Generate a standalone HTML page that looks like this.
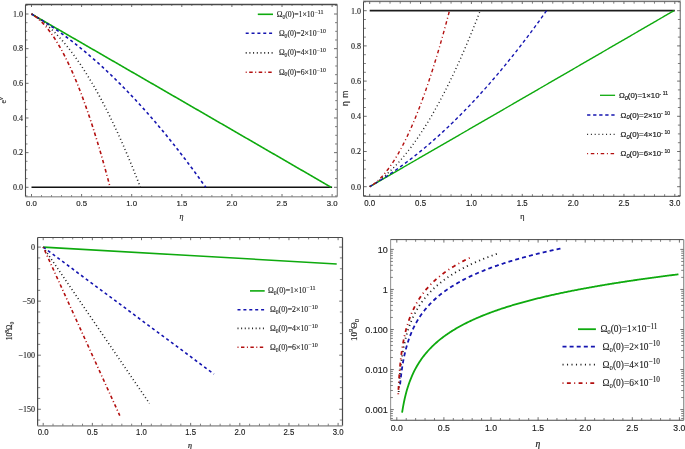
<!DOCTYPE html>
<html><head><meta charset="utf-8"><style>
html,body{margin:0;padding:0;background:#fff;}
svg{display:block;will-change:transform;}
</style></head><body>
<svg width="685" height="449" viewBox="0 0 685 449">
<rect width="685" height="449" fill="#fff"/>
<path d="M25.5 4.5 L25.5 196.7" fill="none" stroke="#4a4a4a" stroke-width="1.1" stroke-linecap="butt" stroke-linejoin="round"/>
<path d="M25.5 4.5 L337.3 4.5" fill="none" stroke="#4a4a4a" stroke-width="1.4" stroke-linecap="butt" stroke-linejoin="round"/>
<path d="M337.3 4.5 L337.3 196.7" fill="none" stroke="#7c7c7c" stroke-width="1.1" stroke-linecap="butt" stroke-linejoin="round"/>
<path d="M25.5 196.7 L337.3 196.7" fill="none" stroke="#a4a4a4" stroke-width="1.6" stroke-linecap="butt" stroke-linejoin="round"/>
<path d="M31.5 196.5 L31.5 194" fill="none" stroke="#4a4a4a" stroke-width="0.8" stroke-linecap="butt" stroke-linejoin="round"/>
<path d="M31.5 4.5 L31.5 7" fill="none" stroke="#4a4a4a" stroke-width="0.8" stroke-linecap="butt" stroke-linejoin="round"/>
<path d="M81.6 196.5 L81.6 194" fill="none" stroke="#4a4a4a" stroke-width="0.8" stroke-linecap="butt" stroke-linejoin="round"/>
<path d="M81.6 4.5 L81.6 7" fill="none" stroke="#4a4a4a" stroke-width="0.8" stroke-linecap="butt" stroke-linejoin="round"/>
<path d="M131.7 196.5 L131.7 194" fill="none" stroke="#4a4a4a" stroke-width="0.8" stroke-linecap="butt" stroke-linejoin="round"/>
<path d="M131.7 4.5 L131.7 7" fill="none" stroke="#4a4a4a" stroke-width="0.8" stroke-linecap="butt" stroke-linejoin="round"/>
<path d="M181.8 196.5 L181.8 194" fill="none" stroke="#4a4a4a" stroke-width="0.8" stroke-linecap="butt" stroke-linejoin="round"/>
<path d="M181.8 4.5 L181.8 7" fill="none" stroke="#4a4a4a" stroke-width="0.8" stroke-linecap="butt" stroke-linejoin="round"/>
<path d="M231.9 196.5 L231.9 194" fill="none" stroke="#4a4a4a" stroke-width="0.8" stroke-linecap="butt" stroke-linejoin="round"/>
<path d="M231.9 4.5 L231.9 7" fill="none" stroke="#4a4a4a" stroke-width="0.8" stroke-linecap="butt" stroke-linejoin="round"/>
<path d="M282 196.5 L282 194" fill="none" stroke="#4a4a4a" stroke-width="0.8" stroke-linecap="butt" stroke-linejoin="round"/>
<path d="M282 4.5 L282 7" fill="none" stroke="#4a4a4a" stroke-width="0.8" stroke-linecap="butt" stroke-linejoin="round"/>
<path d="M332.1 196.5 L332.1 194" fill="none" stroke="#4a4a4a" stroke-width="0.8" stroke-linecap="butt" stroke-linejoin="round"/>
<path d="M332.1 4.5 L332.1 7" fill="none" stroke="#4a4a4a" stroke-width="0.8" stroke-linecap="butt" stroke-linejoin="round"/>
<path d="M41.52 196.5 L41.52 195.1" fill="none" stroke="#4a4a4a" stroke-width="0.7" stroke-linecap="butt" stroke-linejoin="round"/>
<path d="M41.52 4.5 L41.52 5.9" fill="none" stroke="#4a4a4a" stroke-width="0.7" stroke-linecap="butt" stroke-linejoin="round"/>
<path d="M51.54 196.5 L51.54 195.1" fill="none" stroke="#4a4a4a" stroke-width="0.7" stroke-linecap="butt" stroke-linejoin="round"/>
<path d="M51.54 4.5 L51.54 5.9" fill="none" stroke="#4a4a4a" stroke-width="0.7" stroke-linecap="butt" stroke-linejoin="round"/>
<path d="M61.56 196.5 L61.56 195.1" fill="none" stroke="#4a4a4a" stroke-width="0.7" stroke-linecap="butt" stroke-linejoin="round"/>
<path d="M61.56 4.5 L61.56 5.9" fill="none" stroke="#4a4a4a" stroke-width="0.7" stroke-linecap="butt" stroke-linejoin="round"/>
<path d="M71.58 196.5 L71.58 195.1" fill="none" stroke="#4a4a4a" stroke-width="0.7" stroke-linecap="butt" stroke-linejoin="round"/>
<path d="M71.58 4.5 L71.58 5.9" fill="none" stroke="#4a4a4a" stroke-width="0.7" stroke-linecap="butt" stroke-linejoin="round"/>
<path d="M91.62 196.5 L91.62 195.1" fill="none" stroke="#4a4a4a" stroke-width="0.7" stroke-linecap="butt" stroke-linejoin="round"/>
<path d="M91.62 4.5 L91.62 5.9" fill="none" stroke="#4a4a4a" stroke-width="0.7" stroke-linecap="butt" stroke-linejoin="round"/>
<path d="M101.64 196.5 L101.64 195.1" fill="none" stroke="#4a4a4a" stroke-width="0.7" stroke-linecap="butt" stroke-linejoin="round"/>
<path d="M101.64 4.5 L101.64 5.9" fill="none" stroke="#4a4a4a" stroke-width="0.7" stroke-linecap="butt" stroke-linejoin="round"/>
<path d="M111.66 196.5 L111.66 195.1" fill="none" stroke="#4a4a4a" stroke-width="0.7" stroke-linecap="butt" stroke-linejoin="round"/>
<path d="M111.66 4.5 L111.66 5.9" fill="none" stroke="#4a4a4a" stroke-width="0.7" stroke-linecap="butt" stroke-linejoin="round"/>
<path d="M121.68 196.5 L121.68 195.1" fill="none" stroke="#4a4a4a" stroke-width="0.7" stroke-linecap="butt" stroke-linejoin="round"/>
<path d="M121.68 4.5 L121.68 5.9" fill="none" stroke="#4a4a4a" stroke-width="0.7" stroke-linecap="butt" stroke-linejoin="round"/>
<path d="M141.72 196.5 L141.72 195.1" fill="none" stroke="#4a4a4a" stroke-width="0.7" stroke-linecap="butt" stroke-linejoin="round"/>
<path d="M141.72 4.5 L141.72 5.9" fill="none" stroke="#4a4a4a" stroke-width="0.7" stroke-linecap="butt" stroke-linejoin="round"/>
<path d="M151.74 196.5 L151.74 195.1" fill="none" stroke="#4a4a4a" stroke-width="0.7" stroke-linecap="butt" stroke-linejoin="round"/>
<path d="M151.74 4.5 L151.74 5.9" fill="none" stroke="#4a4a4a" stroke-width="0.7" stroke-linecap="butt" stroke-linejoin="round"/>
<path d="M161.76 196.5 L161.76 195.1" fill="none" stroke="#4a4a4a" stroke-width="0.7" stroke-linecap="butt" stroke-linejoin="round"/>
<path d="M161.76 4.5 L161.76 5.9" fill="none" stroke="#4a4a4a" stroke-width="0.7" stroke-linecap="butt" stroke-linejoin="round"/>
<path d="M171.78 196.5 L171.78 195.1" fill="none" stroke="#4a4a4a" stroke-width="0.7" stroke-linecap="butt" stroke-linejoin="round"/>
<path d="M171.78 4.5 L171.78 5.9" fill="none" stroke="#4a4a4a" stroke-width="0.7" stroke-linecap="butt" stroke-linejoin="round"/>
<path d="M191.82 196.5 L191.82 195.1" fill="none" stroke="#4a4a4a" stroke-width="0.7" stroke-linecap="butt" stroke-linejoin="round"/>
<path d="M191.82 4.5 L191.82 5.9" fill="none" stroke="#4a4a4a" stroke-width="0.7" stroke-linecap="butt" stroke-linejoin="round"/>
<path d="M201.84 196.5 L201.84 195.1" fill="none" stroke="#4a4a4a" stroke-width="0.7" stroke-linecap="butt" stroke-linejoin="round"/>
<path d="M201.84 4.5 L201.84 5.9" fill="none" stroke="#4a4a4a" stroke-width="0.7" stroke-linecap="butt" stroke-linejoin="round"/>
<path d="M211.86 196.5 L211.86 195.1" fill="none" stroke="#4a4a4a" stroke-width="0.7" stroke-linecap="butt" stroke-linejoin="round"/>
<path d="M211.86 4.5 L211.86 5.9" fill="none" stroke="#4a4a4a" stroke-width="0.7" stroke-linecap="butt" stroke-linejoin="round"/>
<path d="M221.88 196.5 L221.88 195.1" fill="none" stroke="#4a4a4a" stroke-width="0.7" stroke-linecap="butt" stroke-linejoin="round"/>
<path d="M221.88 4.5 L221.88 5.9" fill="none" stroke="#4a4a4a" stroke-width="0.7" stroke-linecap="butt" stroke-linejoin="round"/>
<path d="M241.92 196.5 L241.92 195.1" fill="none" stroke="#4a4a4a" stroke-width="0.7" stroke-linecap="butt" stroke-linejoin="round"/>
<path d="M241.92 4.5 L241.92 5.9" fill="none" stroke="#4a4a4a" stroke-width="0.7" stroke-linecap="butt" stroke-linejoin="round"/>
<path d="M251.94 196.5 L251.94 195.1" fill="none" stroke="#4a4a4a" stroke-width="0.7" stroke-linecap="butt" stroke-linejoin="round"/>
<path d="M251.94 4.5 L251.94 5.9" fill="none" stroke="#4a4a4a" stroke-width="0.7" stroke-linecap="butt" stroke-linejoin="round"/>
<path d="M261.96 196.5 L261.96 195.1" fill="none" stroke="#4a4a4a" stroke-width="0.7" stroke-linecap="butt" stroke-linejoin="round"/>
<path d="M261.96 4.5 L261.96 5.9" fill="none" stroke="#4a4a4a" stroke-width="0.7" stroke-linecap="butt" stroke-linejoin="round"/>
<path d="M271.98 196.5 L271.98 195.1" fill="none" stroke="#4a4a4a" stroke-width="0.7" stroke-linecap="butt" stroke-linejoin="round"/>
<path d="M271.98 4.5 L271.98 5.9" fill="none" stroke="#4a4a4a" stroke-width="0.7" stroke-linecap="butt" stroke-linejoin="round"/>
<path d="M292.02 196.5 L292.02 195.1" fill="none" stroke="#4a4a4a" stroke-width="0.7" stroke-linecap="butt" stroke-linejoin="round"/>
<path d="M292.02 4.5 L292.02 5.9" fill="none" stroke="#4a4a4a" stroke-width="0.7" stroke-linecap="butt" stroke-linejoin="round"/>
<path d="M302.04 196.5 L302.04 195.1" fill="none" stroke="#4a4a4a" stroke-width="0.7" stroke-linecap="butt" stroke-linejoin="round"/>
<path d="M302.04 4.5 L302.04 5.9" fill="none" stroke="#4a4a4a" stroke-width="0.7" stroke-linecap="butt" stroke-linejoin="round"/>
<path d="M312.06 196.5 L312.06 195.1" fill="none" stroke="#4a4a4a" stroke-width="0.7" stroke-linecap="butt" stroke-linejoin="round"/>
<path d="M312.06 4.5 L312.06 5.9" fill="none" stroke="#4a4a4a" stroke-width="0.7" stroke-linecap="butt" stroke-linejoin="round"/>
<path d="M322.08 196.5 L322.08 195.1" fill="none" stroke="#4a4a4a" stroke-width="0.7" stroke-linecap="butt" stroke-linejoin="round"/>
<path d="M322.08 4.5 L322.08 5.9" fill="none" stroke="#4a4a4a" stroke-width="0.7" stroke-linecap="butt" stroke-linejoin="round"/>
<path d="M25.5 187.3 L28.5 187.3" fill="none" stroke="#4a4a4a" stroke-width="0.8" stroke-linecap="butt" stroke-linejoin="round"/>
<path d="M337 187.3 L334 187.3" fill="none" stroke="#4a4a4a" stroke-width="0.8" stroke-linecap="butt" stroke-linejoin="round"/>
<path d="M25.5 152.64 L28.5 152.64" fill="none" stroke="#4a4a4a" stroke-width="0.8" stroke-linecap="butt" stroke-linejoin="round"/>
<path d="M337 152.64 L334 152.64" fill="none" stroke="#4a4a4a" stroke-width="0.8" stroke-linecap="butt" stroke-linejoin="round"/>
<path d="M25.5 117.98 L28.5 117.98" fill="none" stroke="#4a4a4a" stroke-width="0.8" stroke-linecap="butt" stroke-linejoin="round"/>
<path d="M337 117.98 L334 117.98" fill="none" stroke="#4a4a4a" stroke-width="0.8" stroke-linecap="butt" stroke-linejoin="round"/>
<path d="M25.5 83.32 L28.5 83.32" fill="none" stroke="#4a4a4a" stroke-width="0.8" stroke-linecap="butt" stroke-linejoin="round"/>
<path d="M337 83.32 L334 83.32" fill="none" stroke="#4a4a4a" stroke-width="0.8" stroke-linecap="butt" stroke-linejoin="round"/>
<path d="M25.5 48.66 L28.5 48.66" fill="none" stroke="#4a4a4a" stroke-width="0.8" stroke-linecap="butt" stroke-linejoin="round"/>
<path d="M337 48.66 L334 48.66" fill="none" stroke="#4a4a4a" stroke-width="0.8" stroke-linecap="butt" stroke-linejoin="round"/>
<path d="M25.5 14 L28.5 14" fill="none" stroke="#4a4a4a" stroke-width="0.8" stroke-linecap="butt" stroke-linejoin="round"/>
<path d="M337 14 L334 14" fill="none" stroke="#4a4a4a" stroke-width="0.8" stroke-linecap="butt" stroke-linejoin="round"/>
<path d="M25.5 169.97 L27.3 169.97" fill="none" stroke="#4a4a4a" stroke-width="0.7" stroke-linecap="butt" stroke-linejoin="round"/>
<path d="M337 169.97 L335.2 169.97" fill="none" stroke="#4a4a4a" stroke-width="0.7" stroke-linecap="butt" stroke-linejoin="round"/>
<path d="M25.5 135.31 L27.3 135.31" fill="none" stroke="#4a4a4a" stroke-width="0.7" stroke-linecap="butt" stroke-linejoin="round"/>
<path d="M337 135.31 L335.2 135.31" fill="none" stroke="#4a4a4a" stroke-width="0.7" stroke-linecap="butt" stroke-linejoin="round"/>
<path d="M25.5 100.65 L27.3 100.65" fill="none" stroke="#4a4a4a" stroke-width="0.7" stroke-linecap="butt" stroke-linejoin="round"/>
<path d="M337 100.65 L335.2 100.65" fill="none" stroke="#4a4a4a" stroke-width="0.7" stroke-linecap="butt" stroke-linejoin="round"/>
<path d="M25.5 65.99 L27.3 65.99" fill="none" stroke="#4a4a4a" stroke-width="0.7" stroke-linecap="butt" stroke-linejoin="round"/>
<path d="M337 65.99 L335.2 65.99" fill="none" stroke="#4a4a4a" stroke-width="0.7" stroke-linecap="butt" stroke-linejoin="round"/>
<path d="M25.5 31.33 L27.3 31.33" fill="none" stroke="#4a4a4a" stroke-width="0.7" stroke-linecap="butt" stroke-linejoin="round"/>
<path d="M337 31.33 L335.2 31.33" fill="none" stroke="#4a4a4a" stroke-width="0.7" stroke-linecap="butt" stroke-linejoin="round"/>
<path d="M25.5 195.97 L27.5 195.97" fill="none" stroke="#4a4a4a" stroke-width="0.7" stroke-linecap="butt" stroke-linejoin="round"/>
<path d="M337 195.97 L335 195.97" fill="none" stroke="#4a4a4a" stroke-width="0.7" stroke-linecap="butt" stroke-linejoin="round"/>
<path d="M25.5 178.64 L27.5 178.64" fill="none" stroke="#4a4a4a" stroke-width="0.7" stroke-linecap="butt" stroke-linejoin="round"/>
<path d="M337 178.64 L335 178.64" fill="none" stroke="#4a4a4a" stroke-width="0.7" stroke-linecap="butt" stroke-linejoin="round"/>
<path d="M25.5 161.31 L27.5 161.31" fill="none" stroke="#4a4a4a" stroke-width="0.7" stroke-linecap="butt" stroke-linejoin="round"/>
<path d="M337 161.31 L335 161.31" fill="none" stroke="#4a4a4a" stroke-width="0.7" stroke-linecap="butt" stroke-linejoin="round"/>
<path d="M25.5 143.98 L27.5 143.98" fill="none" stroke="#4a4a4a" stroke-width="0.7" stroke-linecap="butt" stroke-linejoin="round"/>
<path d="M337 143.98 L335 143.98" fill="none" stroke="#4a4a4a" stroke-width="0.7" stroke-linecap="butt" stroke-linejoin="round"/>
<path d="M25.5 126.65 L27.5 126.65" fill="none" stroke="#4a4a4a" stroke-width="0.7" stroke-linecap="butt" stroke-linejoin="round"/>
<path d="M337 126.65 L335 126.65" fill="none" stroke="#4a4a4a" stroke-width="0.7" stroke-linecap="butt" stroke-linejoin="round"/>
<path d="M25.5 109.31 L27.5 109.31" fill="none" stroke="#4a4a4a" stroke-width="0.7" stroke-linecap="butt" stroke-linejoin="round"/>
<path d="M337 109.31 L335 109.31" fill="none" stroke="#4a4a4a" stroke-width="0.7" stroke-linecap="butt" stroke-linejoin="round"/>
<path d="M25.5 91.98 L27.5 91.98" fill="none" stroke="#4a4a4a" stroke-width="0.7" stroke-linecap="butt" stroke-linejoin="round"/>
<path d="M337 91.98 L335 91.98" fill="none" stroke="#4a4a4a" stroke-width="0.7" stroke-linecap="butt" stroke-linejoin="round"/>
<path d="M25.5 74.66 L27.5 74.66" fill="none" stroke="#4a4a4a" stroke-width="0.7" stroke-linecap="butt" stroke-linejoin="round"/>
<path d="M337 74.66 L335 74.66" fill="none" stroke="#4a4a4a" stroke-width="0.7" stroke-linecap="butt" stroke-linejoin="round"/>
<path d="M25.5 57.32 L27.5 57.32" fill="none" stroke="#4a4a4a" stroke-width="0.7" stroke-linecap="butt" stroke-linejoin="round"/>
<path d="M337 57.32 L335 57.32" fill="none" stroke="#4a4a4a" stroke-width="0.7" stroke-linecap="butt" stroke-linejoin="round"/>
<path d="M25.5 39.99 L27.5 39.99" fill="none" stroke="#4a4a4a" stroke-width="0.7" stroke-linecap="butt" stroke-linejoin="round"/>
<path d="M337 39.99 L335 39.99" fill="none" stroke="#4a4a4a" stroke-width="0.7" stroke-linecap="butt" stroke-linejoin="round"/>
<path d="M25.5 22.66 L27.5 22.66" fill="none" stroke="#4a4a4a" stroke-width="0.7" stroke-linecap="butt" stroke-linejoin="round"/>
<path d="M337 22.66 L335 22.66" fill="none" stroke="#4a4a4a" stroke-width="0.7" stroke-linecap="butt" stroke-linejoin="round"/>
<path d="M25.5 5.33 L27.5 5.33" fill="none" stroke="#4a4a4a" stroke-width="0.7" stroke-linecap="butt" stroke-linejoin="round"/>
<path d="M337 5.33 L335 5.33" fill="none" stroke="#4a4a4a" stroke-width="0.7" stroke-linecap="butt" stroke-linejoin="round"/>
<path d="M31.5 187.3 L332.1 187.3" fill="none" stroke="#111" stroke-width="1.5" stroke-linecap="butt" stroke-linejoin="round"/>
<path d="M31.5 14 L33 14.86 L34.5 15.73 L36 16.59 L37.49 17.46 L38.99 18.32 L40.49 19.18 L41.99 20.05 L43.49 20.91 L44.99 21.78 L46.48 22.64 L47.98 23.5 L49.48 24.37 L50.98 25.23 L52.48 26.1 L53.98 26.96 L55.48 27.83 L56.97 28.69 L58.47 29.55 L59.97 30.42 L61.47 31.28 L62.97 32.15 L64.47 33.01 L65.97 33.88 L67.46 34.74 L68.96 35.61 L70.46 36.47 L71.96 37.34 L73.46 38.2 L74.96 39.06 L76.45 39.93 L77.95 40.79 L79.45 41.66 L80.95 42.52 L82.45 43.39 L83.95 44.25 L85.45 45.12 L86.94 45.98 L88.44 46.85 L89.94 47.71 L91.44 48.58 L92.94 49.44 L94.44 50.31 L95.94 51.17 L97.43 52.04 L98.93 52.9 L100.43 53.77 L101.93 54.63 L103.43 55.5 L104.93 56.36 L106.42 57.23 L107.92 58.09 L109.42 58.96 L110.92 59.82 L112.42 60.69 L113.92 61.56 L115.42 62.42 L116.91 63.29 L118.41 64.15 L119.91 65.02 L121.41 65.88 L122.91 66.75 L124.41 67.61 L125.9 68.48 L127.4 69.35 L128.9 70.21 L130.4 71.08 L131.9 71.94 L133.4 72.81 L134.9 73.67 L136.39 74.54 L137.89 75.41 L139.39 76.27 L140.89 77.14 L142.39 78 L143.89 78.87 L145.39 79.73 L146.88 80.6 L148.38 81.47 L149.88 82.33 L151.38 83.2 L152.88 84.06 L154.38 84.93 L155.87 85.8 L157.37 86.66 L158.87 87.53 L160.37 88.4 L161.87 89.26 L163.37 90.13 L164.87 90.99 L166.36 91.86 L167.86 92.73 L169.36 93.59 L170.86 94.46 L172.36 95.33 L173.86 96.19 L175.36 97.06 L176.85 97.93 L178.35 98.79 L179.85 99.66 L181.35 100.53 L182.85 101.39 L184.35 102.26 L185.84 103.13 L187.34 103.99 L188.84 104.86 L190.34 105.73 L191.84 106.59 L193.34 107.46 L194.84 108.33 L196.33 109.19 L197.83 110.06 L199.33 110.93 L200.83 111.79 L202.33 112.66 L203.83 113.53 L205.32 114.39 L206.82 115.26 L208.32 116.13 L209.82 117 L211.32 117.86 L212.82 118.73 L214.32 119.6 L215.81 120.46 L217.31 121.33 L218.81 122.2 L220.31 123.07 L221.81 123.93 L223.31 124.8 L224.81 125.67 L226.3 126.54 L227.8 127.4 L229.3 128.27 L230.8 129.14 L232.3 130.01 L233.8 130.87 L235.29 131.74 L236.79 132.61 L238.29 133.48 L239.79 134.34 L241.29 135.21 L242.79 136.08 L244.29 136.95 L245.78 137.82 L247.28 138.68 L248.78 139.55 L250.28 140.42 L251.78 141.29 L253.28 142.15 L254.78 143.02 L256.27 143.89 L257.77 144.76 L259.27 145.63 L260.77 146.49 L262.27 147.36 L263.77 148.23 L265.26 149.1 L266.76 149.97 L268.26 150.83 L269.76 151.7 L271.26 152.57 L272.76 153.44 L274.26 154.31 L275.75 155.18 L277.25 156.04 L278.75 156.91 L280.25 157.78 L281.75 158.65 L283.25 159.52 L284.74 160.39 L286.24 161.26 L287.74 162.12 L289.24 162.99 L290.74 163.86 L292.24 164.73 L293.74 165.6 L295.23 166.47 L296.73 167.34 L298.23 168.2 L299.73 169.07 L301.23 169.94 L302.73 170.81 L304.23 171.68 L305.72 172.55 L307.22 173.42 L308.72 174.29 L310.22 175.15 L311.72 176.02 L313.22 176.89 L314.71 177.76 L316.21 178.63 L317.71 179.5 L319.21 180.37 L320.71 181.24 L322.21 182.11 L323.71 182.98 L325.2 183.85 L326.7 184.71 L328.2 185.58 L329.7 186.45 L331.2 187.32" fill="none" stroke="#0eaa0e" stroke-width="1.6" stroke-linecap="butt" stroke-linejoin="round"/>
<path d="M31.5 14 L32.37 14.5 L33.24 15.01 L34.11 15.52 L34.98 16.04 L35.86 16.56 L36.73 17.08 L37.6 17.61 L38.47 18.13 L39.34 18.67 L40.21 19.2 L41.08 19.75 L41.95 20.29 L42.83 20.84 L43.7 21.39 L44.57 21.94 L45.44 22.5 L46.31 23.07 L47.18 23.63 L48.05 24.2 L48.92 24.77 L49.8 25.35 L50.67 25.93 L51.54 26.52 L52.41 27.1 L53.28 27.7 L54.15 28.29 L55.02 28.89 L55.89 29.49 L56.77 30.1 L57.64 30.71 L58.51 31.32 L59.38 31.94 L60.25 32.56 L61.12 33.18 L61.99 33.81 L62.86 34.44 L63.74 35.08 L64.61 35.72 L65.48 36.36 L66.35 37.01 L67.22 37.65 L68.09 38.31 L68.96 38.97 L69.83 39.63 L70.71 40.29 L71.58 40.96 L72.45 41.63 L73.32 42.31 L74.19 42.98 L75.06 43.67 L75.93 44.35 L76.8 45.04 L77.68 45.74 L78.55 46.43 L79.42 47.13 L80.29 47.84 L81.16 48.55 L82.03 49.26 L82.9 49.97 L83.77 50.69 L84.65 51.42 L85.52 52.14 L86.39 52.87 L87.26 53.61 L88.13 54.34 L89 55.08 L89.87 55.83 L90.74 56.58 L91.62 57.33 L92.49 58.08 L93.36 58.84 L94.23 59.61 L95.1 60.37 L95.97 61.14 L96.84 61.92 L97.71 62.69 L98.59 63.47 L99.46 64.26 L100.33 65.05 L101.2 65.84 L102.07 66.63 L102.94 67.43 L103.81 68.24 L104.68 69.04 L105.56 69.85 L106.43 70.67 L107.3 71.48 L108.17 72.3 L109.04 73.13 L109.91 73.96 L110.78 74.79 L111.65 75.62 L112.53 76.46 L113.4 77.31 L114.27 78.15 L115.14 79 L116.01 79.86 L116.88 80.71 L117.75 81.58 L118.62 82.44 L119.5 83.31 L120.37 84.18 L121.24 85.06 L122.11 85.94 L122.98 86.82 L123.85 87.7 L124.72 88.59 L125.59 89.49 L126.47 90.39 L127.34 91.29 L128.21 92.19 L129.08 93.1 L129.95 94.01 L130.82 94.93 L131.69 95.85 L132.56 96.77 L133.43 97.7 L134.31 98.63 L135.18 99.56 L136.05 100.5 L136.92 101.44 L137.79 102.38 L138.66 103.33 L139.53 104.29 L140.4 105.24 L141.28 106.2 L142.15 107.16 L143.02 108.13 L143.89 109.1 L144.76 110.07 L145.63 111.05 L146.5 112.03 L147.37 113.02 L148.25 114.01 L149.12 115 L149.99 115.99 L150.86 116.99 L151.73 118 L152.6 119 L153.47 120.01 L154.34 121.03 L155.22 122.05 L156.09 123.07 L156.96 124.09 L157.83 125.12 L158.7 126.15 L159.57 127.19 L160.44 128.23 L161.31 129.27 L162.19 130.32 L163.06 131.37 L163.93 132.42 L164.8 133.48 L165.67 134.54 L166.54 135.61 L167.41 136.68 L168.28 137.75 L169.16 138.82 L170.03 139.9 L170.9 140.99 L171.77 142.07 L172.64 143.16 L173.51 144.26 L174.38 145.36 L175.25 146.46 L176.13 147.56 L177 148.67 L177.87 149.78 L178.74 150.9 L179.61 152.02 L180.48 153.14 L181.35 154.27 L182.22 155.4 L183.1 156.53 L183.97 157.67 L184.84 158.81 L185.71 159.96 L186.58 161.11 L187.45 162.26 L188.32 163.42 L189.19 164.58 L190.07 165.74 L190.94 166.91 L191.81 168.08 L192.68 169.25 L193.55 170.43 L194.42 171.61 L195.29 172.8 L196.16 173.99 L197.04 175.18 L197.91 176.37 L198.78 177.57 L199.65 178.78 L200.52 179.98 L201.39 181.2 L202.26 182.41 L203.13 183.63 L204.01 184.85 L204.88 186.07 L205.75 187.3" fill="none" stroke="#1515b0" stroke-width="1.6" stroke-dasharray="3 2.85" stroke-linecap="butt" stroke-linejoin="round"/>
<path d="M31.5 14 L32.04 14.32 L32.59 14.64 L33.13 14.97 L33.68 15.3 L34.22 15.64 L34.77 15.98 L35.31 16.33 L35.86 16.69 L36.4 17.05 L36.95 17.42 L37.49 17.79 L38.04 18.17 L38.58 18.55 L39.12 18.94 L39.67 19.33 L40.21 19.73 L40.76 20.14 L41.3 20.55 L41.85 20.96 L42.39 21.38 L42.94 21.81 L43.48 22.25 L44.03 22.68 L44.57 23.13 L45.11 23.58 L45.66 24.03 L46.2 24.49 L46.75 24.96 L47.29 25.43 L47.84 25.91 L48.38 26.39 L48.93 26.88 L49.47 27.37 L50.02 27.87 L50.56 28.37 L51.11 28.89 L51.65 29.4 L52.19 29.92 L52.74 30.45 L53.28 30.98 L53.83 31.52 L54.37 32.06 L54.92 32.61 L55.46 33.17 L56.01 33.73 L56.55 34.29 L57.1 34.86 L57.64 35.44 L58.18 36.02 L58.73 36.61 L59.27 37.2 L59.82 37.8 L60.36 38.41 L60.91 39.01 L61.45 39.63 L62 40.25 L62.54 40.88 L63.09 41.51 L63.63 42.15 L64.18 42.79 L64.72 43.44 L65.26 44.09 L65.81 44.75 L66.35 45.42 L66.9 46.09 L67.44 46.76 L67.99 47.44 L68.53 48.13 L69.08 48.82 L69.62 49.52 L70.17 50.23 L70.71 50.94 L71.25 51.65 L71.8 52.37 L72.34 53.1 L72.89 53.83 L73.43 54.56 L73.98 55.31 L74.52 56.06 L75.07 56.81 L75.61 57.57 L76.16 58.33 L76.7 59.1 L77.25 59.88 L77.79 60.66 L78.33 61.45 L78.88 62.24 L79.42 63.04 L79.97 63.84 L80.51 64.65 L81.06 65.46 L81.6 66.28 L82.15 67.11 L82.69 67.94 L83.24 68.77 L83.78 69.62 L84.32 70.46 L84.87 71.32 L85.41 72.18 L85.96 73.04 L86.5 73.91 L87.05 74.78 L87.59 75.66 L88.14 76.55 L88.68 77.44 L89.23 78.34 L89.77 79.24 L90.32 80.15 L90.86 81.06 L91.4 81.98 L91.95 82.91 L92.49 83.84 L93.04 84.78 L93.58 85.72 L94.13 86.66 L94.67 87.62 L95.22 88.57 L95.76 89.54 L96.31 90.51 L96.85 91.48 L97.4 92.46 L97.94 93.45 L98.48 94.44 L99.03 95.44 L99.57 96.44 L100.12 97.45 L100.66 98.46 L101.21 99.48 L101.75 100.5 L102.3 101.53 L102.84 102.57 L103.39 103.61 L103.93 104.66 L104.47 105.71 L105.02 106.76 L105.56 107.83 L106.11 108.9 L106.65 109.97 L107.2 111.05 L107.74 112.14 L108.29 113.23 L108.83 114.32 L109.38 115.42 L109.92 116.53 L110.47 117.64 L111.01 118.76 L111.55 119.89 L112.1 121.02 L112.64 122.15 L113.19 123.29 L113.73 124.44 L114.28 125.59 L114.82 126.75 L115.37 127.91 L115.91 129.08 L116.46 130.25 L117 131.43 L117.54 132.61 L118.09 133.81 L118.63 135 L119.18 136.2 L119.72 137.41 L120.27 138.62 L120.81 139.84 L121.36 141.06 L121.9 142.29 L122.45 143.53 L122.99 144.77 L123.54 146.01 L124.08 147.26 L124.62 148.52 L125.17 149.78 L125.71 151.05 L126.26 152.32 L126.8 153.6 L127.35 154.89 L127.89 156.18 L128.44 157.47 L128.98 158.77 L129.53 160.08 L130.07 161.39 L130.61 162.71 L131.16 164.03 L131.7 165.36 L132.25 166.69 L132.79 168.03 L133.34 169.38 L133.88 170.73 L134.43 172.08 L134.97 173.45 L135.52 174.81 L136.06 176.19 L136.61 177.56 L137.15 178.95 L137.69 180.34 L138.24 181.73 L138.78 183.13 L139.33 184.54 L139.87 185.95 L140.42 187.37" fill="none" stroke="#222222" stroke-width="1.6" stroke-dasharray="1 2.7" stroke-linecap="butt" stroke-linejoin="round"/>
<path d="M31.5 14 L31.89 14.23 L32.29 14.47 L32.68 14.71 L33.07 14.96 L33.47 15.21 L33.86 15.47 L34.25 15.74 L34.64 16.02 L35.04 16.3 L35.43 16.59 L35.82 16.88 L36.22 17.18 L36.61 17.49 L37 17.8 L37.4 18.12 L37.79 18.44 L38.18 18.78 L38.57 19.12 L38.97 19.46 L39.36 19.81 L39.75 20.17 L40.15 20.53 L40.54 20.9 L40.93 21.28 L41.33 21.66 L41.72 22.05 L42.11 22.45 L42.5 22.85 L42.9 23.26 L43.29 23.68 L43.68 24.1 L44.08 24.53 L44.47 24.96 L44.86 25.4 L45.26 25.85 L45.65 26.3 L46.04 26.76 L46.44 27.23 L46.83 27.7 L47.22 28.18 L47.61 28.67 L48.01 29.16 L48.4 29.66 L48.79 30.16 L49.19 30.68 L49.58 31.19 L49.97 31.72 L50.37 32.25 L50.76 32.79 L51.15 33.33 L51.54 33.88 L51.94 34.43 L52.33 35 L52.72 35.57 L53.12 36.14 L53.51 36.72 L53.9 37.31 L54.3 37.91 L54.69 38.51 L55.08 39.11 L55.48 39.73 L55.87 40.35 L56.26 40.97 L56.65 41.61 L57.05 42.25 L57.44 42.89 L57.83 43.54 L58.23 44.2 L58.62 44.87 L59.01 45.54 L59.41 46.22 L59.8 46.9 L60.19 47.59 L60.58 48.29 L60.98 48.99 L61.37 49.7 L61.76 50.42 L62.16 51.14 L62.55 51.87 L62.94 52.61 L63.34 53.35 L63.73 54.09 L64.12 54.85 L64.51 55.61 L64.91 56.38 L65.3 57.15 L65.69 57.93 L66.09 58.72 L66.48 59.51 L66.87 60.31 L67.27 61.12 L67.66 61.93 L68.05 62.75 L68.45 63.57 L68.84 64.4 L69.23 65.24 L69.62 66.08 L70.02 66.94 L70.41 67.79 L70.8 68.66 L71.2 69.53 L71.59 70.4 L71.98 71.28 L72.38 72.17 L72.77 73.07 L73.16 73.97 L73.55 74.88 L73.95 75.79 L74.34 76.71 L74.73 77.64 L75.13 78.57 L75.52 79.51 L75.91 80.46 L76.31 81.41 L76.7 82.37 L77.09 83.34 L77.49 84.31 L77.88 85.29 L78.27 86.27 L78.66 87.27 L79.06 88.26 L79.45 89.27 L79.84 90.28 L80.24 91.3 L80.63 92.32 L81.02 93.35 L81.42 94.38 L81.81 95.43 L82.2 96.48 L82.59 97.53 L82.99 98.59 L83.38 99.66 L83.77 100.74 L84.17 101.82 L84.56 102.9 L84.95 104 L85.35 105.1 L85.74 106.2 L86.13 107.32 L86.52 108.44 L86.92 109.56 L87.31 110.69 L87.7 111.83 L88.1 112.98 L88.49 114.13 L88.88 115.29 L89.28 116.45 L89.67 117.62 L90.06 118.8 L90.46 119.98 L90.85 121.17 L91.24 122.37 L91.63 123.57 L92.03 124.78 L92.42 125.99 L92.81 127.22 L93.21 128.44 L93.6 129.68 L93.99 130.92 L94.39 132.17 L94.78 133.42 L95.17 134.68 L95.56 135.95 L95.96 137.22 L96.35 138.5 L96.74 139.78 L97.14 141.08 L97.53 142.37 L97.92 143.68 L98.32 144.99 L98.71 146.31 L99.1 147.63 L99.49 148.96 L99.89 150.3 L100.28 151.64 L100.67 152.99 L101.07 154.35 L101.46 155.71 L101.85 157.08 L102.25 158.46 L102.64 159.84 L103.03 161.23 L103.43 162.62 L103.82 164.02 L104.21 165.43 L104.6 166.84 L105 168.26 L105.39 169.69 L105.78 171.12 L106.18 172.56 L106.57 174.01 L106.96 175.46 L107.36 176.92 L107.75 178.38 L108.14 179.85 L108.53 181.33 L108.93 182.81 L109.32 184.3 L109.71 185.8 L110.11 187.3" fill="none" stroke="#b30f0f" stroke-width="1.6" stroke-dasharray="1 2.5 3.5 2.5" stroke-linecap="butt" stroke-linejoin="round"/>
<text x="31.5" y="205.9" font-family="'Liberation Sans', sans-serif" font-size="7.8" text-anchor="middle" fill="#222" stroke="#222" stroke-width="0.15">0.0</text>
<text x="81.6" y="205.9" font-family="'Liberation Sans', sans-serif" font-size="7.8" text-anchor="middle" fill="#222" stroke="#222" stroke-width="0.15">0.5</text>
<text x="131.7" y="205.9" font-family="'Liberation Sans', sans-serif" font-size="7.8" text-anchor="middle" fill="#222" stroke="#222" stroke-width="0.15">1.0</text>
<text x="181.8" y="205.9" font-family="'Liberation Sans', sans-serif" font-size="7.8" text-anchor="middle" fill="#222" stroke="#222" stroke-width="0.15">1.5</text>
<text x="231.9" y="205.9" font-family="'Liberation Sans', sans-serif" font-size="7.8" text-anchor="middle" fill="#222" stroke="#222" stroke-width="0.15">2.0</text>
<text x="282" y="205.9" font-family="'Liberation Sans', sans-serif" font-size="7.8" text-anchor="middle" fill="#222" stroke="#222" stroke-width="0.15">2.5</text>
<text x="332.1" y="205.9" font-family="'Liberation Sans', sans-serif" font-size="7.8" text-anchor="middle" fill="#222" stroke="#222" stroke-width="0.15">3.0</text>
<text x="23" y="190.1" font-family="'Liberation Serif', serif" font-size="8" text-anchor="end" fill="#222" stroke="#222" stroke-width="0.12">0.0</text>
<text x="23" y="155.44" font-family="'Liberation Serif', serif" font-size="8" text-anchor="end" fill="#222" stroke="#222" stroke-width="0.12">0.2</text>
<text x="23" y="120.78" font-family="'Liberation Serif', serif" font-size="8" text-anchor="end" fill="#222" stroke="#222" stroke-width="0.12">0.4</text>
<text x="23" y="86.12" font-family="'Liberation Serif', serif" font-size="8" text-anchor="end" fill="#222" stroke="#222" stroke-width="0.12">0.6</text>
<text x="23" y="51.46" font-family="'Liberation Serif', serif" font-size="8" text-anchor="end" fill="#222" stroke="#222" stroke-width="0.12">0.8</text>
<text x="23" y="16.8" font-family="'Liberation Serif', serif" font-size="8" text-anchor="end" fill="#222" stroke="#222" stroke-width="0.12">1.0</text>
<text x="181.5" y="219" font-family="'Liberation Serif', serif" font-size="8" text-anchor="middle" fill="#222" stroke="#222" stroke-width="0.15" font-style="italic">η</text>
<text transform="translate(6 103.6) rotate(-90)" font-family="'Liberation Serif', serif" font-size="8" fill="#222" stroke="#222" stroke-width="0.15">e<tspan font-size="5.8" dy="-3" font-style="italic">ν</tspan></text>
<path d="M257.8 14.3 L273 14.3" fill="none" stroke="#0eaa0e" stroke-width="1.6" stroke-linecap="butt" stroke-linejoin="round"/>
<text x="276.8" y="16.84" font-family="'Liberation Serif', serif" font-size="7.7" text-anchor="start" fill="#222" stroke="#222" stroke-width="0.12">Ω<tspan font-size="5.54" dy="1.69">0</tspan><tspan dy="-1.69">(0)=1×10</tspan><tspan font-size="6.01" dy="-3.08">−11</tspan></text>
<path d="M245.7 33.3 L273 33.3" fill="none" stroke="#1515b0" stroke-width="1.6" stroke-dasharray="3 2.85" stroke-linecap="butt" stroke-linejoin="round"/>
<text x="278.9" y="35.84" font-family="'Liberation Serif', serif" font-size="7.7" text-anchor="start" fill="#222" stroke="#222" stroke-width="0.12">Ω<tspan font-size="5.54" dy="1.69">0</tspan><tspan dy="-1.69">(0)=2×10</tspan><tspan font-size="6.01" dy="-3.08">−10</tspan></text>
<path d="M245.7 52.9 L273 52.9" fill="none" stroke="#222222" stroke-width="1.6" stroke-dasharray="1 2.7" stroke-linecap="butt" stroke-linejoin="round"/>
<text x="278.9" y="55.44" font-family="'Liberation Serif', serif" font-size="7.7" text-anchor="start" fill="#222" stroke="#222" stroke-width="0.12">Ω<tspan font-size="5.54" dy="1.69">0</tspan><tspan dy="-1.69">(0)=4×10</tspan><tspan font-size="6.01" dy="-3.08">−10</tspan></text>
<path d="M245.7 72.2 L273 72.2" fill="none" stroke="#b30f0f" stroke-width="1.6" stroke-dasharray="1 2.5 3.5 2.5" stroke-linecap="butt" stroke-linejoin="round"/>
<text x="278.9" y="74.74" font-family="'Liberation Serif', serif" font-size="7.7" text-anchor="start" fill="#222" stroke="#222" stroke-width="0.12">Ω<tspan font-size="5.54" dy="1.69">0</tspan><tspan dy="-1.69">(0)=6×10</tspan><tspan font-size="6.01" dy="-3.08">−10</tspan></text>
<path d="M363.5 1.6 L363.5 196.3" fill="none" stroke="#4a4a4a" stroke-width="1.0" stroke-linecap="butt" stroke-linejoin="round"/>
<path d="M363.5 1.6 L680.3 1.6" fill="none" stroke="#555555" stroke-width="0.9" stroke-linecap="butt" stroke-linejoin="round"/>
<path d="M680.3 1.6 L680.3 196.3" fill="none" stroke="#8c8c8c" stroke-width="1.4" stroke-linecap="butt" stroke-linejoin="round"/>
<path d="M363.5 196.3 L680.3 196.3" fill="none" stroke="#4a4a4a" stroke-width="1.0" stroke-linecap="butt" stroke-linejoin="round"/>
<path d="M363 0.5 L681 0.5" fill="none" stroke="#c8c8c8" stroke-width="1.0" stroke-linecap="butt" stroke-linejoin="round"/>
<path d="M369.7 196.3 L369.7 193.9" fill="none" stroke="#4a4a4a" stroke-width="0.8" stroke-linecap="butt" stroke-linejoin="round"/>
<path d="M369.7 1.6 L369.7 4" fill="none" stroke="#4a4a4a" stroke-width="0.8" stroke-linecap="butt" stroke-linejoin="round"/>
<path d="M420.55 196.3 L420.55 193.9" fill="none" stroke="#4a4a4a" stroke-width="0.8" stroke-linecap="butt" stroke-linejoin="round"/>
<path d="M420.55 1.6 L420.55 4" fill="none" stroke="#4a4a4a" stroke-width="0.8" stroke-linecap="butt" stroke-linejoin="round"/>
<path d="M471.4 196.3 L471.4 193.9" fill="none" stroke="#4a4a4a" stroke-width="0.8" stroke-linecap="butt" stroke-linejoin="round"/>
<path d="M471.4 1.6 L471.4 4" fill="none" stroke="#4a4a4a" stroke-width="0.8" stroke-linecap="butt" stroke-linejoin="round"/>
<path d="M522.25 196.3 L522.25 193.9" fill="none" stroke="#4a4a4a" stroke-width="0.8" stroke-linecap="butt" stroke-linejoin="round"/>
<path d="M522.25 1.6 L522.25 4" fill="none" stroke="#4a4a4a" stroke-width="0.8" stroke-linecap="butt" stroke-linejoin="round"/>
<path d="M573.1 196.3 L573.1 193.9" fill="none" stroke="#4a4a4a" stroke-width="0.8" stroke-linecap="butt" stroke-linejoin="round"/>
<path d="M573.1 1.6 L573.1 4" fill="none" stroke="#4a4a4a" stroke-width="0.8" stroke-linecap="butt" stroke-linejoin="round"/>
<path d="M623.95 196.3 L623.95 193.9" fill="none" stroke="#4a4a4a" stroke-width="0.8" stroke-linecap="butt" stroke-linejoin="round"/>
<path d="M623.95 1.6 L623.95 4" fill="none" stroke="#4a4a4a" stroke-width="0.8" stroke-linecap="butt" stroke-linejoin="round"/>
<path d="M674.8 196.3 L674.8 193.9" fill="none" stroke="#4a4a4a" stroke-width="0.8" stroke-linecap="butt" stroke-linejoin="round"/>
<path d="M674.8 1.6 L674.8 4" fill="none" stroke="#4a4a4a" stroke-width="0.8" stroke-linecap="butt" stroke-linejoin="round"/>
<path d="M379.87 196.3 L379.87 194.2" fill="none" stroke="#4a4a4a" stroke-width="0.7" stroke-linecap="butt" stroke-linejoin="round"/>
<path d="M379.87 1.6 L379.87 3.7" fill="none" stroke="#4a4a4a" stroke-width="0.7" stroke-linecap="butt" stroke-linejoin="round"/>
<path d="M390.04 196.3 L390.04 194.2" fill="none" stroke="#4a4a4a" stroke-width="0.7" stroke-linecap="butt" stroke-linejoin="round"/>
<path d="M390.04 1.6 L390.04 3.7" fill="none" stroke="#4a4a4a" stroke-width="0.7" stroke-linecap="butt" stroke-linejoin="round"/>
<path d="M400.21 196.3 L400.21 194.2" fill="none" stroke="#4a4a4a" stroke-width="0.7" stroke-linecap="butt" stroke-linejoin="round"/>
<path d="M400.21 1.6 L400.21 3.7" fill="none" stroke="#4a4a4a" stroke-width="0.7" stroke-linecap="butt" stroke-linejoin="round"/>
<path d="M410.38 196.3 L410.38 194.2" fill="none" stroke="#4a4a4a" stroke-width="0.7" stroke-linecap="butt" stroke-linejoin="round"/>
<path d="M410.38 1.6 L410.38 3.7" fill="none" stroke="#4a4a4a" stroke-width="0.7" stroke-linecap="butt" stroke-linejoin="round"/>
<path d="M430.72 196.3 L430.72 194.2" fill="none" stroke="#4a4a4a" stroke-width="0.7" stroke-linecap="butt" stroke-linejoin="round"/>
<path d="M430.72 1.6 L430.72 3.7" fill="none" stroke="#4a4a4a" stroke-width="0.7" stroke-linecap="butt" stroke-linejoin="round"/>
<path d="M440.89 196.3 L440.89 194.2" fill="none" stroke="#4a4a4a" stroke-width="0.7" stroke-linecap="butt" stroke-linejoin="round"/>
<path d="M440.89 1.6 L440.89 3.7" fill="none" stroke="#4a4a4a" stroke-width="0.7" stroke-linecap="butt" stroke-linejoin="round"/>
<path d="M451.06 196.3 L451.06 194.2" fill="none" stroke="#4a4a4a" stroke-width="0.7" stroke-linecap="butt" stroke-linejoin="round"/>
<path d="M451.06 1.6 L451.06 3.7" fill="none" stroke="#4a4a4a" stroke-width="0.7" stroke-linecap="butt" stroke-linejoin="round"/>
<path d="M461.23 196.3 L461.23 194.2" fill="none" stroke="#4a4a4a" stroke-width="0.7" stroke-linecap="butt" stroke-linejoin="round"/>
<path d="M461.23 1.6 L461.23 3.7" fill="none" stroke="#4a4a4a" stroke-width="0.7" stroke-linecap="butt" stroke-linejoin="round"/>
<path d="M481.57 196.3 L481.57 194.2" fill="none" stroke="#4a4a4a" stroke-width="0.7" stroke-linecap="butt" stroke-linejoin="round"/>
<path d="M481.57 1.6 L481.57 3.7" fill="none" stroke="#4a4a4a" stroke-width="0.7" stroke-linecap="butt" stroke-linejoin="round"/>
<path d="M491.74 196.3 L491.74 194.2" fill="none" stroke="#4a4a4a" stroke-width="0.7" stroke-linecap="butt" stroke-linejoin="round"/>
<path d="M491.74 1.6 L491.74 3.7" fill="none" stroke="#4a4a4a" stroke-width="0.7" stroke-linecap="butt" stroke-linejoin="round"/>
<path d="M501.91 196.3 L501.91 194.2" fill="none" stroke="#4a4a4a" stroke-width="0.7" stroke-linecap="butt" stroke-linejoin="round"/>
<path d="M501.91 1.6 L501.91 3.7" fill="none" stroke="#4a4a4a" stroke-width="0.7" stroke-linecap="butt" stroke-linejoin="round"/>
<path d="M512.08 196.3 L512.08 194.2" fill="none" stroke="#4a4a4a" stroke-width="0.7" stroke-linecap="butt" stroke-linejoin="round"/>
<path d="M512.08 1.6 L512.08 3.7" fill="none" stroke="#4a4a4a" stroke-width="0.7" stroke-linecap="butt" stroke-linejoin="round"/>
<path d="M532.42 196.3 L532.42 194.2" fill="none" stroke="#4a4a4a" stroke-width="0.7" stroke-linecap="butt" stroke-linejoin="round"/>
<path d="M532.42 1.6 L532.42 3.7" fill="none" stroke="#4a4a4a" stroke-width="0.7" stroke-linecap="butt" stroke-linejoin="round"/>
<path d="M542.59 196.3 L542.59 194.2" fill="none" stroke="#4a4a4a" stroke-width="0.7" stroke-linecap="butt" stroke-linejoin="round"/>
<path d="M542.59 1.6 L542.59 3.7" fill="none" stroke="#4a4a4a" stroke-width="0.7" stroke-linecap="butt" stroke-linejoin="round"/>
<path d="M552.76 196.3 L552.76 194.2" fill="none" stroke="#4a4a4a" stroke-width="0.7" stroke-linecap="butt" stroke-linejoin="round"/>
<path d="M552.76 1.6 L552.76 3.7" fill="none" stroke="#4a4a4a" stroke-width="0.7" stroke-linecap="butt" stroke-linejoin="round"/>
<path d="M562.93 196.3 L562.93 194.2" fill="none" stroke="#4a4a4a" stroke-width="0.7" stroke-linecap="butt" stroke-linejoin="round"/>
<path d="M562.93 1.6 L562.93 3.7" fill="none" stroke="#4a4a4a" stroke-width="0.7" stroke-linecap="butt" stroke-linejoin="round"/>
<path d="M583.27 196.3 L583.27 194.2" fill="none" stroke="#4a4a4a" stroke-width="0.7" stroke-linecap="butt" stroke-linejoin="round"/>
<path d="M583.27 1.6 L583.27 3.7" fill="none" stroke="#4a4a4a" stroke-width="0.7" stroke-linecap="butt" stroke-linejoin="round"/>
<path d="M593.44 196.3 L593.44 194.2" fill="none" stroke="#4a4a4a" stroke-width="0.7" stroke-linecap="butt" stroke-linejoin="round"/>
<path d="M593.44 1.6 L593.44 3.7" fill="none" stroke="#4a4a4a" stroke-width="0.7" stroke-linecap="butt" stroke-linejoin="round"/>
<path d="M603.61 196.3 L603.61 194.2" fill="none" stroke="#4a4a4a" stroke-width="0.7" stroke-linecap="butt" stroke-linejoin="round"/>
<path d="M603.61 1.6 L603.61 3.7" fill="none" stroke="#4a4a4a" stroke-width="0.7" stroke-linecap="butt" stroke-linejoin="round"/>
<path d="M613.78 196.3 L613.78 194.2" fill="none" stroke="#4a4a4a" stroke-width="0.7" stroke-linecap="butt" stroke-linejoin="round"/>
<path d="M613.78 1.6 L613.78 3.7" fill="none" stroke="#4a4a4a" stroke-width="0.7" stroke-linecap="butt" stroke-linejoin="round"/>
<path d="M634.12 196.3 L634.12 194.2" fill="none" stroke="#4a4a4a" stroke-width="0.7" stroke-linecap="butt" stroke-linejoin="round"/>
<path d="M634.12 1.6 L634.12 3.7" fill="none" stroke="#4a4a4a" stroke-width="0.7" stroke-linecap="butt" stroke-linejoin="round"/>
<path d="M644.29 196.3 L644.29 194.2" fill="none" stroke="#4a4a4a" stroke-width="0.7" stroke-linecap="butt" stroke-linejoin="round"/>
<path d="M644.29 1.6 L644.29 3.7" fill="none" stroke="#4a4a4a" stroke-width="0.7" stroke-linecap="butt" stroke-linejoin="round"/>
<path d="M654.46 196.3 L654.46 194.2" fill="none" stroke="#4a4a4a" stroke-width="0.7" stroke-linecap="butt" stroke-linejoin="round"/>
<path d="M654.46 1.6 L654.46 3.7" fill="none" stroke="#4a4a4a" stroke-width="0.7" stroke-linecap="butt" stroke-linejoin="round"/>
<path d="M664.63 196.3 L664.63 194.2" fill="none" stroke="#4a4a4a" stroke-width="0.7" stroke-linecap="butt" stroke-linejoin="round"/>
<path d="M664.63 1.6 L664.63 3.7" fill="none" stroke="#4a4a4a" stroke-width="0.7" stroke-linecap="butt" stroke-linejoin="round"/>
<path d="M363.5 186.7 L366.7 186.7" fill="none" stroke="#4a4a4a" stroke-width="0.8" stroke-linecap="butt" stroke-linejoin="round"/>
<path d="M680.3 186.7 L677.1 186.7" fill="none" stroke="#4a4a4a" stroke-width="0.8" stroke-linecap="butt" stroke-linejoin="round"/>
<path d="M363.5 151.5 L366.7 151.5" fill="none" stroke="#4a4a4a" stroke-width="0.8" stroke-linecap="butt" stroke-linejoin="round"/>
<path d="M680.3 151.5 L677.1 151.5" fill="none" stroke="#4a4a4a" stroke-width="0.8" stroke-linecap="butt" stroke-linejoin="round"/>
<path d="M363.5 116.3 L366.7 116.3" fill="none" stroke="#4a4a4a" stroke-width="0.8" stroke-linecap="butt" stroke-linejoin="round"/>
<path d="M680.3 116.3 L677.1 116.3" fill="none" stroke="#4a4a4a" stroke-width="0.8" stroke-linecap="butt" stroke-linejoin="round"/>
<path d="M363.5 81.1 L366.7 81.1" fill="none" stroke="#4a4a4a" stroke-width="0.8" stroke-linecap="butt" stroke-linejoin="round"/>
<path d="M680.3 81.1 L677.1 81.1" fill="none" stroke="#4a4a4a" stroke-width="0.8" stroke-linecap="butt" stroke-linejoin="round"/>
<path d="M363.5 45.9 L366.7 45.9" fill="none" stroke="#4a4a4a" stroke-width="0.8" stroke-linecap="butt" stroke-linejoin="round"/>
<path d="M680.3 45.9 L677.1 45.9" fill="none" stroke="#4a4a4a" stroke-width="0.8" stroke-linecap="butt" stroke-linejoin="round"/>
<path d="M363.5 10.7 L366.7 10.7" fill="none" stroke="#4a4a4a" stroke-width="0.8" stroke-linecap="butt" stroke-linejoin="round"/>
<path d="M680.3 10.7 L677.1 10.7" fill="none" stroke="#4a4a4a" stroke-width="0.8" stroke-linecap="butt" stroke-linejoin="round"/>
<path d="M363.5 195.5 L365.9 195.5" fill="none" stroke="#4a4a4a" stroke-width="0.7" stroke-linecap="butt" stroke-linejoin="round"/>
<path d="M680.3 195.5 L677.9 195.5" fill="none" stroke="#4a4a4a" stroke-width="0.7" stroke-linecap="butt" stroke-linejoin="round"/>
<path d="M363.5 177.9 L365.9 177.9" fill="none" stroke="#4a4a4a" stroke-width="0.7" stroke-linecap="butt" stroke-linejoin="round"/>
<path d="M680.3 177.9 L677.9 177.9" fill="none" stroke="#4a4a4a" stroke-width="0.7" stroke-linecap="butt" stroke-linejoin="round"/>
<path d="M363.5 169.1 L365.9 169.1" fill="none" stroke="#4a4a4a" stroke-width="0.7" stroke-linecap="butt" stroke-linejoin="round"/>
<path d="M680.3 169.1 L677.9 169.1" fill="none" stroke="#4a4a4a" stroke-width="0.7" stroke-linecap="butt" stroke-linejoin="round"/>
<path d="M363.5 160.3 L365.9 160.3" fill="none" stroke="#4a4a4a" stroke-width="0.7" stroke-linecap="butt" stroke-linejoin="round"/>
<path d="M680.3 160.3 L677.9 160.3" fill="none" stroke="#4a4a4a" stroke-width="0.7" stroke-linecap="butt" stroke-linejoin="round"/>
<path d="M363.5 142.7 L365.9 142.7" fill="none" stroke="#4a4a4a" stroke-width="0.7" stroke-linecap="butt" stroke-linejoin="round"/>
<path d="M680.3 142.7 L677.9 142.7" fill="none" stroke="#4a4a4a" stroke-width="0.7" stroke-linecap="butt" stroke-linejoin="round"/>
<path d="M363.5 133.9 L365.9 133.9" fill="none" stroke="#4a4a4a" stroke-width="0.7" stroke-linecap="butt" stroke-linejoin="round"/>
<path d="M680.3 133.9 L677.9 133.9" fill="none" stroke="#4a4a4a" stroke-width="0.7" stroke-linecap="butt" stroke-linejoin="round"/>
<path d="M363.5 125.1 L365.9 125.1" fill="none" stroke="#4a4a4a" stroke-width="0.7" stroke-linecap="butt" stroke-linejoin="round"/>
<path d="M680.3 125.1 L677.9 125.1" fill="none" stroke="#4a4a4a" stroke-width="0.7" stroke-linecap="butt" stroke-linejoin="round"/>
<path d="M363.5 107.5 L365.9 107.5" fill="none" stroke="#4a4a4a" stroke-width="0.7" stroke-linecap="butt" stroke-linejoin="round"/>
<path d="M680.3 107.5 L677.9 107.5" fill="none" stroke="#4a4a4a" stroke-width="0.7" stroke-linecap="butt" stroke-linejoin="round"/>
<path d="M363.5 98.7 L365.9 98.7" fill="none" stroke="#4a4a4a" stroke-width="0.7" stroke-linecap="butt" stroke-linejoin="round"/>
<path d="M680.3 98.7 L677.9 98.7" fill="none" stroke="#4a4a4a" stroke-width="0.7" stroke-linecap="butt" stroke-linejoin="round"/>
<path d="M363.5 89.9 L365.9 89.9" fill="none" stroke="#4a4a4a" stroke-width="0.7" stroke-linecap="butt" stroke-linejoin="round"/>
<path d="M680.3 89.9 L677.9 89.9" fill="none" stroke="#4a4a4a" stroke-width="0.7" stroke-linecap="butt" stroke-linejoin="round"/>
<path d="M363.5 72.3 L365.9 72.3" fill="none" stroke="#4a4a4a" stroke-width="0.7" stroke-linecap="butt" stroke-linejoin="round"/>
<path d="M680.3 72.3 L677.9 72.3" fill="none" stroke="#4a4a4a" stroke-width="0.7" stroke-linecap="butt" stroke-linejoin="round"/>
<path d="M363.5 63.5 L365.9 63.5" fill="none" stroke="#4a4a4a" stroke-width="0.7" stroke-linecap="butt" stroke-linejoin="round"/>
<path d="M680.3 63.5 L677.9 63.5" fill="none" stroke="#4a4a4a" stroke-width="0.7" stroke-linecap="butt" stroke-linejoin="round"/>
<path d="M363.5 54.7 L365.9 54.7" fill="none" stroke="#4a4a4a" stroke-width="0.7" stroke-linecap="butt" stroke-linejoin="round"/>
<path d="M680.3 54.7 L677.9 54.7" fill="none" stroke="#4a4a4a" stroke-width="0.7" stroke-linecap="butt" stroke-linejoin="round"/>
<path d="M363.5 37.1 L365.9 37.1" fill="none" stroke="#4a4a4a" stroke-width="0.7" stroke-linecap="butt" stroke-linejoin="round"/>
<path d="M680.3 37.1 L677.9 37.1" fill="none" stroke="#4a4a4a" stroke-width="0.7" stroke-linecap="butt" stroke-linejoin="round"/>
<path d="M363.5 28.3 L365.9 28.3" fill="none" stroke="#4a4a4a" stroke-width="0.7" stroke-linecap="butt" stroke-linejoin="round"/>
<path d="M680.3 28.3 L677.9 28.3" fill="none" stroke="#4a4a4a" stroke-width="0.7" stroke-linecap="butt" stroke-linejoin="round"/>
<path d="M363.5 19.5 L365.9 19.5" fill="none" stroke="#4a4a4a" stroke-width="0.7" stroke-linecap="butt" stroke-linejoin="round"/>
<path d="M680.3 19.5 L677.9 19.5" fill="none" stroke="#4a4a4a" stroke-width="0.7" stroke-linecap="butt" stroke-linejoin="round"/>
<path d="M363.5 1.9 L365.9 1.9" fill="none" stroke="#4a4a4a" stroke-width="0.7" stroke-linecap="butt" stroke-linejoin="round"/>
<path d="M680.3 1.9 L677.9 1.9" fill="none" stroke="#4a4a4a" stroke-width="0.7" stroke-linecap="butt" stroke-linejoin="round"/>
<path d="M369.7 10.7 L674.8 10.7" fill="none" stroke="#1c1c1c" stroke-width="1.8" stroke-linecap="butt" stroke-linejoin="round"/>
<path d="M369.7 186.7 L371.22 185.82 L372.74 184.95 L374.26 184.07 L375.78 183.19 L377.3 182.31 L378.83 181.44 L380.35 180.56 L381.87 179.68 L383.39 178.8 L384.91 177.93 L386.43 177.05 L387.95 176.17 L389.47 175.29 L390.99 174.41 L392.51 173.54 L394.03 172.66 L395.56 171.78 L397.08 170.9 L398.6 170.03 L400.12 169.15 L401.64 168.27 L403.16 167.39 L404.68 166.51 L406.2 165.64 L407.72 164.76 L409.24 163.88 L410.76 163 L412.29 162.12 L413.81 161.24 L415.33 160.37 L416.85 159.49 L418.37 158.61 L419.89 157.73 L421.41 156.85 L422.93 155.98 L424.45 155.1 L425.97 154.22 L427.5 153.34 L429.02 152.46 L430.54 151.58 L432.06 150.71 L433.58 149.83 L435.1 148.95 L436.62 148.07 L438.14 147.19 L439.66 146.31 L441.18 145.43 L442.7 144.55 L444.23 143.68 L445.75 142.8 L447.27 141.92 L448.79 141.04 L450.31 140.16 L451.83 139.28 L453.35 138.4 L454.87 137.52 L456.39 136.65 L457.91 135.77 L459.43 134.89 L460.96 134.01 L462.48 133.13 L464 132.25 L465.52 131.37 L467.04 130.49 L468.56 129.61 L470.08 128.73 L471.6 127.86 L473.12 126.98 L474.64 126.1 L476.16 125.22 L477.69 124.34 L479.21 123.46 L480.73 122.58 L482.25 121.7 L483.77 120.82 L485.29 119.94 L486.81 119.06 L488.33 118.18 L489.85 117.3 L491.37 116.42 L492.89 115.54 L494.42 114.66 L495.94 113.78 L497.46 112.9 L498.98 112.02 L500.5 111.15 L502.02 110.27 L503.54 109.39 L505.06 108.51 L506.58 107.63 L508.1 106.75 L509.62 105.87 L511.15 104.99 L512.67 104.11 L514.19 103.23 L515.71 102.35 L517.23 101.47 L518.75 100.59 L520.27 99.71 L521.79 98.83 L523.31 97.95 L524.83 97.07 L526.36 96.19 L527.88 95.31 L529.4 94.43 L530.92 93.55 L532.44 92.66 L533.96 91.78 L535.48 90.9 L537 90.02 L538.52 89.14 L540.04 88.26 L541.56 87.38 L543.09 86.5 L544.61 85.62 L546.13 84.74 L547.65 83.86 L549.17 82.98 L550.69 82.1 L552.21 81.22 L553.73 80.34 L555.25 79.46 L556.77 78.58 L558.29 77.7 L559.82 76.81 L561.34 75.93 L562.86 75.05 L564.38 74.17 L565.9 73.29 L567.42 72.41 L568.94 71.53 L570.46 70.65 L571.98 69.77 L573.5 68.89 L575.02 68.01 L576.55 67.12 L578.07 66.24 L579.59 65.36 L581.11 64.48 L582.63 63.6 L584.15 62.72 L585.67 61.84 L587.19 60.96 L588.71 60.07 L590.23 59.19 L591.75 58.31 L593.28 57.43 L594.8 56.55 L596.32 55.67 L597.84 54.79 L599.36 53.9 L600.88 53.02 L602.4 52.14 L603.92 51.26 L605.44 50.38 L606.96 49.5 L608.48 48.61 L610.01 47.73 L611.53 46.85 L613.05 45.97 L614.57 45.09 L616.09 44.21 L617.61 43.32 L619.13 42.44 L620.65 41.56 L622.17 40.68 L623.69 39.8 L625.22 38.91 L626.74 38.03 L628.26 37.15 L629.78 36.27 L631.3 35.39 L632.82 34.5 L634.34 33.62 L635.86 32.74 L637.38 31.86 L638.9 30.98 L640.42 30.09 L641.95 29.21 L643.47 28.33 L644.99 27.45 L646.51 26.56 L648.03 25.68 L649.55 24.8 L651.07 23.92 L652.59 23.03 L654.11 22.15 L655.63 21.27 L657.15 20.39 L658.68 19.5 L660.2 18.62 L661.72 17.74 L663.24 16.86 L664.76 15.97 L666.28 15.09 L667.8 14.21 L669.32 13.33 L670.84 12.44 L672.36 11.56 L673.88 10.68" fill="none" stroke="#0eaa0e" stroke-width="1.4" stroke-linecap="butt" stroke-linejoin="round"/>
<path d="M369.7 186.7 L370.58 186.19 L371.47 185.67 L372.35 185.15 L373.24 184.63 L374.12 184.1 L375.01 183.57 L375.89 183.04 L376.77 182.5 L377.66 181.96 L378.54 181.41 L379.43 180.87 L380.31 180.31 L381.2 179.76 L382.08 179.2 L382.96 178.63 L383.85 178.06 L384.73 177.49 L385.62 176.92 L386.5 176.34 L387.39 175.76 L388.27 175.17 L389.15 174.58 L390.04 173.99 L390.92 173.39 L391.81 172.79 L392.69 172.19 L393.58 171.58 L394.46 170.97 L395.34 170.35 L396.23 169.73 L397.11 169.11 L398 168.48 L398.88 167.85 L399.77 167.22 L400.65 166.58 L401.53 165.94 L402.42 165.29 L403.3 164.65 L404.19 163.99 L405.07 163.34 L405.96 162.68 L406.84 162.01 L407.72 161.35 L408.61 160.67 L409.49 160 L410.38 159.32 L411.26 158.64 L412.15 157.95 L413.03 157.26 L413.91 156.57 L414.8 155.87 L415.68 155.17 L416.57 154.47 L417.45 153.76 L418.34 153.05 L419.22 152.33 L420.1 151.61 L420.99 150.89 L421.87 150.17 L422.76 149.44 L423.64 148.7 L424.53 147.96 L425.41 147.22 L426.29 146.48 L427.18 145.73 L428.06 144.98 L428.95 144.22 L429.83 143.46 L430.72 142.7 L431.6 141.93 L432.48 141.16 L433.37 140.38 L434.25 139.61 L435.14 138.82 L436.02 138.04 L436.91 137.25 L437.79 136.46 L438.67 135.66 L439.56 134.86 L440.44 134.05 L441.33 133.25 L442.21 132.43 L443.1 131.62 L443.98 130.8 L444.86 129.98 L445.75 129.15 L446.63 128.32 L447.52 127.49 L448.4 126.65 L449.29 125.81 L450.17 124.96 L451.05 124.12 L451.94 123.26 L452.82 122.41 L453.71 121.55 L454.59 120.68 L455.48 119.82 L456.36 118.95 L457.24 118.07 L458.13 117.19 L459.01 116.31 L459.9 115.43 L460.78 114.54 L461.67 113.64 L462.55 112.75 L463.43 111.85 L464.32 110.94 L465.2 110.04 L466.09 109.12 L466.97 108.21 L467.86 107.29 L468.74 106.37 L469.62 105.44 L470.51 104.51 L471.39 103.58 L472.28 102.64 L473.16 101.7 L474.05 100.75 L474.93 99.81 L475.81 98.85 L476.7 97.9 L477.58 96.94 L478.47 95.98 L479.35 95.01 L480.24 94.04 L481.12 93.06 L482 92.09 L482.89 91.1 L483.77 90.12 L484.66 89.13 L485.54 88.14 L486.43 87.14 L487.31 86.14 L488.19 85.14 L489.08 84.13 L489.96 83.12 L490.85 82.1 L491.73 81.08 L492.62 80.06 L493.5 79.03 L494.38 78 L495.27 76.97 L496.15 75.93 L497.04 74.89 L497.92 73.85 L498.81 72.8 L499.69 71.75 L500.57 70.69 L501.46 69.63 L502.34 68.57 L503.23 67.5 L504.11 66.43 L505 65.36 L505.88 64.28 L506.76 63.2 L507.65 62.11 L508.53 61.02 L509.42 59.93 L510.3 58.83 L511.19 57.73 L512.07 56.63 L512.95 55.52 L513.84 54.41 L514.72 53.3 L515.61 52.18 L516.49 51.06 L517.38 49.93 L518.26 48.8 L519.14 47.67 L520.03 46.53 L520.91 45.39 L521.8 44.24 L522.68 43.1 L523.56 41.94 L524.45 40.79 L525.33 39.63 L526.22 38.47 L527.1 37.3 L527.99 36.13 L528.87 34.96 L529.75 33.78 L530.64 32.6 L531.52 31.41 L532.41 30.22 L533.29 29.03 L534.18 27.83 L535.06 26.63 L535.94 25.43 L536.83 24.22 L537.71 23.01 L538.6 21.8 L539.48 20.58 L540.37 19.36 L541.25 18.13 L542.13 16.9 L543.02 15.67 L543.9 14.43 L544.79 13.19 L545.67 11.94 L546.56 10.7" fill="none" stroke="#1515b0" stroke-width="1.4" stroke-dasharray="3.3 2.75" stroke-linecap="butt" stroke-linejoin="round"/>
<path d="M369.7 186.7 L370.25 186.38 L370.81 186.05 L371.36 185.72 L371.91 185.38 L372.46 185.04 L373.02 184.69 L373.57 184.33 L374.12 183.97 L374.67 183.6 L375.23 183.23 L375.78 182.85 L376.33 182.47 L376.89 182.08 L377.44 181.69 L377.99 181.29 L378.54 180.88 L379.1 180.47 L379.65 180.05 L380.2 179.63 L380.75 179.2 L381.31 178.77 L381.86 178.33 L382.41 177.88 L382.97 177.43 L383.52 176.97 L384.07 176.51 L384.62 176.04 L385.18 175.57 L385.73 175.09 L386.28 174.61 L386.83 174.12 L387.39 173.62 L387.94 173.12 L388.49 172.61 L389.05 172.1 L389.6 171.58 L390.15 171.06 L390.7 170.53 L391.26 169.99 L391.81 169.45 L392.36 168.91 L392.92 168.36 L393.47 167.8 L394.02 167.24 L394.57 166.67 L395.13 166.09 L395.68 165.51 L396.23 164.93 L396.78 164.34 L397.34 163.74 L397.89 163.14 L398.44 162.53 L399 161.91 L399.55 161.3 L400.1 160.67 L400.65 160.04 L401.21 159.4 L401.76 158.76 L402.31 158.12 L402.86 157.46 L403.42 156.8 L403.97 156.14 L404.52 155.47 L405.08 154.79 L405.63 154.11 L406.18 153.43 L406.73 152.73 L407.29 152.04 L407.84 151.33 L408.39 150.62 L408.94 149.91 L409.5 149.19 L410.05 148.46 L410.6 147.73 L411.16 146.99 L411.71 146.25 L412.26 145.5 L412.81 144.75 L413.37 143.99 L413.92 143.22 L414.47 142.45 L415.02 141.68 L415.58 140.89 L416.13 140.11 L416.68 139.31 L417.24 138.52 L417.79 137.71 L418.34 136.9 L418.89 136.08 L419.45 135.26 L420 134.44 L420.55 133.6 L421.1 132.77 L421.66 131.92 L422.21 131.07 L422.76 130.22 L423.32 129.36 L423.87 128.49 L424.42 127.62 L424.97 126.74 L425.53 125.86 L426.08 124.97 L426.63 124.07 L427.18 123.17 L427.74 122.27 L428.29 121.36 L428.84 120.44 L429.4 119.52 L429.95 118.59 L430.5 117.66 L431.05 116.72 L431.61 115.77 L432.16 114.82 L432.71 113.87 L433.27 112.9 L433.82 111.94 L434.37 110.96 L434.92 109.98 L435.48 109 L436.03 108.01 L436.58 107.02 L437.13 106.01 L437.69 105.01 L438.24 104 L438.79 102.98 L439.35 101.95 L439.9 100.92 L440.45 99.89 L441 98.85 L441.56 97.8 L442.11 96.75 L442.66 95.7 L443.21 94.63 L443.77 93.56 L444.32 92.49 L444.87 91.41 L445.43 90.32 L445.98 89.23 L446.53 88.14 L447.08 87.04 L447.64 85.93 L448.19 84.81 L448.74 83.7 L449.29 82.57 L449.85 81.44 L450.4 80.3 L450.95 79.16 L451.51 78.02 L452.06 76.86 L452.61 75.71 L453.16 74.54 L453.72 73.37 L454.27 72.2 L454.82 71.02 L455.37 69.83 L455.93 68.64 L456.48 67.44 L457.03 66.24 L457.59 65.03 L458.14 63.81 L458.69 62.59 L459.24 61.37 L459.8 60.14 L460.35 58.9 L460.9 57.66 L461.45 56.41 L462.01 55.16 L462.56 53.9 L463.11 52.63 L463.67 51.36 L464.22 50.08 L464.77 48.8 L465.32 47.52 L465.88 46.22 L466.43 44.92 L466.98 43.62 L467.53 42.31 L468.09 40.99 L468.64 39.67 L469.19 38.35 L469.75 37.01 L470.3 35.68 L470.85 34.33 L471.4 32.98 L471.96 31.63 L472.51 30.27 L473.06 28.9 L473.62 27.53 L474.17 26.15 L474.72 24.77 L475.27 23.38 L475.83 21.99 L476.38 20.59 L476.93 19.18 L477.48 17.77 L478.04 16.36 L478.59 14.93 L479.14 13.51 L479.7 12.07 L480.25 10.63" fill="none" stroke="#222222" stroke-width="1.4" stroke-dasharray="1 2.79" stroke-linecap="butt" stroke-linejoin="round"/>
<path d="M369.7 186.7 L370.1 186.47 L370.5 186.23 L370.9 185.98 L371.3 185.73 L371.69 185.47 L372.09 185.2 L372.49 184.93 L372.89 184.65 L373.29 184.37 L373.69 184.07 L374.09 183.78 L374.49 183.47 L374.89 183.16 L375.28 182.84 L375.68 182.52 L376.08 182.19 L376.48 181.85 L376.88 181.5 L377.28 181.15 L377.68 180.8 L378.08 180.43 L378.48 180.06 L378.88 179.69 L379.27 179.31 L379.67 178.92 L380.07 178.52 L380.47 178.12 L380.87 177.71 L381.27 177.29 L381.67 176.87 L382.07 176.44 L382.47 176.01 L382.86 175.57 L383.26 175.12 L383.66 174.67 L384.06 174.2 L384.46 173.74 L384.86 173.26 L385.26 172.78 L385.66 172.3 L386.06 171.8 L386.45 171.3 L386.85 170.8 L387.25 170.28 L387.65 169.76 L388.05 169.24 L388.45 168.71 L388.85 168.17 L389.25 167.62 L389.65 167.07 L390.04 166.51 L390.44 165.95 L390.84 165.38 L391.24 164.8 L391.64 164.21 L392.04 163.62 L392.44 163.03 L392.84 162.42 L393.24 161.81 L393.64 161.19 L394.03 160.57 L394.43 159.94 L394.83 159.31 L395.23 158.66 L395.63 158.01 L396.03 157.36 L396.43 156.69 L396.83 156.03 L397.23 155.35 L397.62 154.67 L398.02 153.98 L398.42 153.29 L398.82 152.58 L399.22 151.88 L399.62 151.16 L400.02 150.44 L400.42 149.71 L400.82 148.98 L401.21 148.24 L401.61 147.49 L402.01 146.74 L402.41 145.98 L402.81 145.21 L403.21 144.44 L403.61 143.66 L404.01 142.88 L404.41 142.08 L404.8 141.29 L405.2 140.48 L405.6 139.67 L406 138.85 L406.4 138.02 L406.8 137.19 L407.2 136.36 L407.6 135.51 L408 134.66 L408.4 133.8 L408.79 132.94 L409.19 132.07 L409.59 131.19 L409.99 130.31 L410.39 129.42 L410.79 128.52 L411.19 127.62 L411.59 126.71 L411.99 125.8 L412.38 124.87 L412.78 123.94 L413.18 123.01 L413.58 122.07 L413.98 121.12 L414.38 120.16 L414.78 119.2 L415.18 118.24 L415.58 117.26 L415.97 116.28 L416.37 115.29 L416.77 114.3 L417.17 113.3 L417.57 112.29 L417.97 111.28 L418.37 110.26 L418.77 109.23 L419.17 108.2 L419.56 107.16 L419.96 106.12 L420.36 105.06 L420.76 104 L421.16 102.94 L421.56 101.87 L421.96 100.79 L422.36 99.7 L422.76 98.61 L423.16 97.52 L423.55 96.41 L423.95 95.3 L424.35 94.18 L424.75 93.06 L425.15 91.93 L425.55 90.79 L425.95 89.65 L426.35 88.5 L426.75 87.34 L427.14 86.18 L427.54 85.01 L427.94 83.84 L428.34 82.65 L428.74 81.46 L429.14 80.27 L429.54 79.07 L429.94 77.86 L430.34 76.64 L430.73 75.42 L431.13 74.2 L431.53 72.96 L431.93 71.72 L432.33 70.47 L432.73 69.22 L433.13 67.96 L433.53 66.69 L433.93 65.42 L434.32 64.14 L434.72 62.85 L435.12 61.56 L435.52 60.26 L435.92 58.96 L436.32 57.64 L436.72 56.33 L437.12 55 L437.52 53.67 L437.92 52.33 L438.31 50.99 L438.71 49.63 L439.11 48.28 L439.51 46.91 L439.91 45.54 L440.31 44.16 L440.71 42.78 L441.11 41.39 L441.51 39.99 L441.9 38.59 L442.3 37.18 L442.7 35.76 L443.1 34.34 L443.5 32.91 L443.9 31.48 L444.3 30.03 L444.7 28.59 L445.1 27.13 L445.49 25.67 L445.89 24.2 L446.29 22.73 L446.69 21.25 L447.09 19.76 L447.49 18.26 L447.89 16.76 L448.29 15.26 L448.69 13.74 L449.08 12.22 L449.48 10.7" fill="none" stroke="#b30f0f" stroke-width="1.4" stroke-dasharray="1 2.7 3.5 2.7" stroke-linecap="butt" stroke-linejoin="round"/>
<text transform="translate(369.7 205.8) scale(0.95 1)" font-family="'Liberation Sans', sans-serif" font-size="8.3" text-anchor="middle" fill="#222" stroke="#222" stroke-width="0.15">0.0</text>
<text transform="translate(420.55 205.8) scale(0.95 1)" font-family="'Liberation Sans', sans-serif" font-size="8.3" text-anchor="middle" fill="#222" stroke="#222" stroke-width="0.15">0.5</text>
<text transform="translate(471.4 205.8) scale(0.95 1)" font-family="'Liberation Sans', sans-serif" font-size="8.3" text-anchor="middle" fill="#222" stroke="#222" stroke-width="0.15">1.0</text>
<text transform="translate(522.25 205.8) scale(0.95 1)" font-family="'Liberation Sans', sans-serif" font-size="8.3" text-anchor="middle" fill="#222" stroke="#222" stroke-width="0.15">1.5</text>
<text transform="translate(573.1 205.8) scale(0.95 1)" font-family="'Liberation Sans', sans-serif" font-size="8.3" text-anchor="middle" fill="#222" stroke="#222" stroke-width="0.15">2.0</text>
<text transform="translate(623.95 205.8) scale(0.95 1)" font-family="'Liberation Sans', sans-serif" font-size="8.3" text-anchor="middle" fill="#222" stroke="#222" stroke-width="0.15">2.5</text>
<text transform="translate(674.8 205.8) scale(0.95 1)" font-family="'Liberation Sans', sans-serif" font-size="8.3" text-anchor="middle" fill="#222" stroke="#222" stroke-width="0.15">3.0</text>
<text x="361" y="189.5" font-family="'Liberation Serif', serif" font-size="8" text-anchor="end" fill="#222" stroke="#222" stroke-width="0.12">0.0</text>
<text x="361" y="154.3" font-family="'Liberation Serif', serif" font-size="8" text-anchor="end" fill="#222" stroke="#222" stroke-width="0.12">0.2</text>
<text x="361" y="119.1" font-family="'Liberation Serif', serif" font-size="8" text-anchor="end" fill="#222" stroke="#222" stroke-width="0.12">0.4</text>
<text x="361" y="83.9" font-family="'Liberation Serif', serif" font-size="8" text-anchor="end" fill="#222" stroke="#222" stroke-width="0.12">0.6</text>
<text x="361" y="48.7" font-family="'Liberation Serif', serif" font-size="8" text-anchor="end" fill="#222" stroke="#222" stroke-width="0.12">0.8</text>
<text x="361" y="13.5" font-family="'Liberation Serif', serif" font-size="8" text-anchor="end" fill="#222" stroke="#222" stroke-width="0.12">1.0</text>
<text x="522.3" y="219" font-family="'Liberation Sans', sans-serif" font-size="7.6" text-anchor="middle" fill="#222" stroke="#222" stroke-width="0.15">η</text>
<text transform="translate(347.9 98.3) rotate(-90) scale(0.95 1)" font-family="'Liberation Sans', sans-serif" font-size="9" word-spacing="1.4" fill="#222" stroke="#222" stroke-width="0.15" text-anchor="middle">η m</text>
<path d="M600 95.3 L615.1 95.3" fill="none" stroke="#0eaa0e" stroke-width="1.3" stroke-linecap="butt" stroke-linejoin="round"/>
<text x="618.9" y="97.87" font-family="'Liberation Sans', sans-serif" font-size="7.8" text-anchor="start" fill="#222" stroke="#222" stroke-width="0.2">Ω<tspan font-size="5.62" dy="1.72" font-style="italic">0</tspan><tspan dy="-1.72">(0)=1×10</tspan><tspan font-size="4.29" dy="-3.2">-</tspan><tspan font-size="4.99" dx="1.79" dy="0.39">11</tspan></text>
<path d="M587.1 115 L615.1 115" fill="none" stroke="#1515b0" stroke-width="1.3" stroke-dasharray="3.3 2.75" stroke-linecap="butt" stroke-linejoin="round"/>
<text x="620.6" y="117.57" font-family="'Liberation Sans', sans-serif" font-size="7.8" text-anchor="start" fill="#222" stroke="#222" stroke-width="0.2">Ω<tspan font-size="5.62" dy="1.72" font-style="italic">0</tspan><tspan dy="-1.72">(0)=2×10</tspan><tspan font-size="4.29" dy="-3.2">-</tspan><tspan font-size="4.99" dx="1.79" dy="0.39">10</tspan></text>
<path d="M587.1 134.4 L615.1 134.4" fill="none" stroke="#222222" stroke-width="1.3" stroke-dasharray="1 2.79" stroke-linecap="butt" stroke-linejoin="round"/>
<text x="620.6" y="136.97" font-family="'Liberation Sans', sans-serif" font-size="7.8" text-anchor="start" fill="#222" stroke="#222" stroke-width="0.2">Ω<tspan font-size="5.62" dy="1.72" font-style="italic">0</tspan><tspan dy="-1.72">(0)=4×10</tspan><tspan font-size="4.29" dy="-3.2">-</tspan><tspan font-size="4.99" dx="1.79" dy="0.39">10</tspan></text>
<path d="M587.1 153.6 L615.1 153.6" fill="none" stroke="#b30f0f" stroke-width="1.3" stroke-dasharray="1 2.7 3.5 2.7" stroke-linecap="butt" stroke-linejoin="round"/>
<text x="620.6" y="156.17" font-family="'Liberation Sans', sans-serif" font-size="7.8" text-anchor="start" fill="#222" stroke="#222" stroke-width="0.2">Ω<tspan font-size="5.62" dy="1.72" font-style="italic">0</tspan><tspan dy="-1.72">(0)=6×10</tspan><tspan font-size="4.29" dy="-3.2">-</tspan><tspan font-size="4.99" dx="1.79" dy="0.39">10</tspan></text>
<path d="M37.6 237.5 L37.6 425.9" fill="none" stroke="#4a4a4a" stroke-width="1.2" stroke-linecap="butt" stroke-linejoin="round"/>
<path d="M37.6 237.5 L342.5 237.5" fill="none" stroke="#4a4a4a" stroke-width="1.2" stroke-linecap="butt" stroke-linejoin="round"/>
<path d="M342.5 237.5 L342.5 425.9" fill="none" stroke="#4a4a4a" stroke-width="1.2" stroke-linecap="butt" stroke-linejoin="round"/>
<path d="M37.6 425.9 L342.5 425.9" fill="none" stroke="#a4a4a4" stroke-width="1.8" stroke-linecap="butt" stroke-linejoin="round"/>
<path d="M43.2 425.6 L43.2 422.9" fill="none" stroke="#4a4a4a" stroke-width="0.8" stroke-linecap="butt" stroke-linejoin="round"/>
<path d="M43.2 237.5 L43.2 240.2" fill="none" stroke="#4a4a4a" stroke-width="0.8" stroke-linecap="butt" stroke-linejoin="round"/>
<path d="M92.35 425.6 L92.35 422.9" fill="none" stroke="#4a4a4a" stroke-width="0.8" stroke-linecap="butt" stroke-linejoin="round"/>
<path d="M92.35 237.5 L92.35 240.2" fill="none" stroke="#4a4a4a" stroke-width="0.8" stroke-linecap="butt" stroke-linejoin="round"/>
<path d="M141.5 425.6 L141.5 422.9" fill="none" stroke="#4a4a4a" stroke-width="0.8" stroke-linecap="butt" stroke-linejoin="round"/>
<path d="M141.5 237.5 L141.5 240.2" fill="none" stroke="#4a4a4a" stroke-width="0.8" stroke-linecap="butt" stroke-linejoin="round"/>
<path d="M190.65 425.6 L190.65 422.9" fill="none" stroke="#4a4a4a" stroke-width="0.8" stroke-linecap="butt" stroke-linejoin="round"/>
<path d="M190.65 237.5 L190.65 240.2" fill="none" stroke="#4a4a4a" stroke-width="0.8" stroke-linecap="butt" stroke-linejoin="round"/>
<path d="M239.8 425.6 L239.8 422.9" fill="none" stroke="#4a4a4a" stroke-width="0.8" stroke-linecap="butt" stroke-linejoin="round"/>
<path d="M239.8 237.5 L239.8 240.2" fill="none" stroke="#4a4a4a" stroke-width="0.8" stroke-linecap="butt" stroke-linejoin="round"/>
<path d="M288.95 425.6 L288.95 422.9" fill="none" stroke="#4a4a4a" stroke-width="0.8" stroke-linecap="butt" stroke-linejoin="round"/>
<path d="M288.95 237.5 L288.95 240.2" fill="none" stroke="#4a4a4a" stroke-width="0.8" stroke-linecap="butt" stroke-linejoin="round"/>
<path d="M338.1 425.6 L338.1 422.9" fill="none" stroke="#4a4a4a" stroke-width="0.8" stroke-linecap="butt" stroke-linejoin="round"/>
<path d="M338.1 237.5 L338.1 240.2" fill="none" stroke="#4a4a4a" stroke-width="0.8" stroke-linecap="butt" stroke-linejoin="round"/>
<path d="M53.03 425.6 L53.03 423.7" fill="none" stroke="#4a4a4a" stroke-width="0.7" stroke-linecap="butt" stroke-linejoin="round"/>
<path d="M53.03 237.5 L53.03 239.4" fill="none" stroke="#4a4a4a" stroke-width="0.7" stroke-linecap="butt" stroke-linejoin="round"/>
<path d="M62.86 425.6 L62.86 423.7" fill="none" stroke="#4a4a4a" stroke-width="0.7" stroke-linecap="butt" stroke-linejoin="round"/>
<path d="M62.86 237.5 L62.86 239.4" fill="none" stroke="#4a4a4a" stroke-width="0.7" stroke-linecap="butt" stroke-linejoin="round"/>
<path d="M72.69 425.6 L72.69 423.7" fill="none" stroke="#4a4a4a" stroke-width="0.7" stroke-linecap="butt" stroke-linejoin="round"/>
<path d="M72.69 237.5 L72.69 239.4" fill="none" stroke="#4a4a4a" stroke-width="0.7" stroke-linecap="butt" stroke-linejoin="round"/>
<path d="M82.52 425.6 L82.52 423.7" fill="none" stroke="#4a4a4a" stroke-width="0.7" stroke-linecap="butt" stroke-linejoin="round"/>
<path d="M82.52 237.5 L82.52 239.4" fill="none" stroke="#4a4a4a" stroke-width="0.7" stroke-linecap="butt" stroke-linejoin="round"/>
<path d="M102.18 425.6 L102.18 423.7" fill="none" stroke="#4a4a4a" stroke-width="0.7" stroke-linecap="butt" stroke-linejoin="round"/>
<path d="M102.18 237.5 L102.18 239.4" fill="none" stroke="#4a4a4a" stroke-width="0.7" stroke-linecap="butt" stroke-linejoin="round"/>
<path d="M112.01 425.6 L112.01 423.7" fill="none" stroke="#4a4a4a" stroke-width="0.7" stroke-linecap="butt" stroke-linejoin="round"/>
<path d="M112.01 237.5 L112.01 239.4" fill="none" stroke="#4a4a4a" stroke-width="0.7" stroke-linecap="butt" stroke-linejoin="round"/>
<path d="M121.84 425.6 L121.84 423.7" fill="none" stroke="#4a4a4a" stroke-width="0.7" stroke-linecap="butt" stroke-linejoin="round"/>
<path d="M121.84 237.5 L121.84 239.4" fill="none" stroke="#4a4a4a" stroke-width="0.7" stroke-linecap="butt" stroke-linejoin="round"/>
<path d="M131.67 425.6 L131.67 423.7" fill="none" stroke="#4a4a4a" stroke-width="0.7" stroke-linecap="butt" stroke-linejoin="round"/>
<path d="M131.67 237.5 L131.67 239.4" fill="none" stroke="#4a4a4a" stroke-width="0.7" stroke-linecap="butt" stroke-linejoin="round"/>
<path d="M151.33 425.6 L151.33 423.7" fill="none" stroke="#4a4a4a" stroke-width="0.7" stroke-linecap="butt" stroke-linejoin="round"/>
<path d="M151.33 237.5 L151.33 239.4" fill="none" stroke="#4a4a4a" stroke-width="0.7" stroke-linecap="butt" stroke-linejoin="round"/>
<path d="M161.16 425.6 L161.16 423.7" fill="none" stroke="#4a4a4a" stroke-width="0.7" stroke-linecap="butt" stroke-linejoin="round"/>
<path d="M161.16 237.5 L161.16 239.4" fill="none" stroke="#4a4a4a" stroke-width="0.7" stroke-linecap="butt" stroke-linejoin="round"/>
<path d="M170.99 425.6 L170.99 423.7" fill="none" stroke="#4a4a4a" stroke-width="0.7" stroke-linecap="butt" stroke-linejoin="round"/>
<path d="M170.99 237.5 L170.99 239.4" fill="none" stroke="#4a4a4a" stroke-width="0.7" stroke-linecap="butt" stroke-linejoin="round"/>
<path d="M180.82 425.6 L180.82 423.7" fill="none" stroke="#4a4a4a" stroke-width="0.7" stroke-linecap="butt" stroke-linejoin="round"/>
<path d="M180.82 237.5 L180.82 239.4" fill="none" stroke="#4a4a4a" stroke-width="0.7" stroke-linecap="butt" stroke-linejoin="round"/>
<path d="M200.48 425.6 L200.48 423.7" fill="none" stroke="#4a4a4a" stroke-width="0.7" stroke-linecap="butt" stroke-linejoin="round"/>
<path d="M200.48 237.5 L200.48 239.4" fill="none" stroke="#4a4a4a" stroke-width="0.7" stroke-linecap="butt" stroke-linejoin="round"/>
<path d="M210.31 425.6 L210.31 423.7" fill="none" stroke="#4a4a4a" stroke-width="0.7" stroke-linecap="butt" stroke-linejoin="round"/>
<path d="M210.31 237.5 L210.31 239.4" fill="none" stroke="#4a4a4a" stroke-width="0.7" stroke-linecap="butt" stroke-linejoin="round"/>
<path d="M220.14 425.6 L220.14 423.7" fill="none" stroke="#4a4a4a" stroke-width="0.7" stroke-linecap="butt" stroke-linejoin="round"/>
<path d="M220.14 237.5 L220.14 239.4" fill="none" stroke="#4a4a4a" stroke-width="0.7" stroke-linecap="butt" stroke-linejoin="round"/>
<path d="M229.97 425.6 L229.97 423.7" fill="none" stroke="#4a4a4a" stroke-width="0.7" stroke-linecap="butt" stroke-linejoin="round"/>
<path d="M229.97 237.5 L229.97 239.4" fill="none" stroke="#4a4a4a" stroke-width="0.7" stroke-linecap="butt" stroke-linejoin="round"/>
<path d="M249.63 425.6 L249.63 423.7" fill="none" stroke="#4a4a4a" stroke-width="0.7" stroke-linecap="butt" stroke-linejoin="round"/>
<path d="M249.63 237.5 L249.63 239.4" fill="none" stroke="#4a4a4a" stroke-width="0.7" stroke-linecap="butt" stroke-linejoin="round"/>
<path d="M259.46 425.6 L259.46 423.7" fill="none" stroke="#4a4a4a" stroke-width="0.7" stroke-linecap="butt" stroke-linejoin="round"/>
<path d="M259.46 237.5 L259.46 239.4" fill="none" stroke="#4a4a4a" stroke-width="0.7" stroke-linecap="butt" stroke-linejoin="round"/>
<path d="M269.29 425.6 L269.29 423.7" fill="none" stroke="#4a4a4a" stroke-width="0.7" stroke-linecap="butt" stroke-linejoin="round"/>
<path d="M269.29 237.5 L269.29 239.4" fill="none" stroke="#4a4a4a" stroke-width="0.7" stroke-linecap="butt" stroke-linejoin="round"/>
<path d="M279.12 425.6 L279.12 423.7" fill="none" stroke="#4a4a4a" stroke-width="0.7" stroke-linecap="butt" stroke-linejoin="round"/>
<path d="M279.12 237.5 L279.12 239.4" fill="none" stroke="#4a4a4a" stroke-width="0.7" stroke-linecap="butt" stroke-linejoin="round"/>
<path d="M298.78 425.6 L298.78 423.7" fill="none" stroke="#4a4a4a" stroke-width="0.7" stroke-linecap="butt" stroke-linejoin="round"/>
<path d="M298.78 237.5 L298.78 239.4" fill="none" stroke="#4a4a4a" stroke-width="0.7" stroke-linecap="butt" stroke-linejoin="round"/>
<path d="M308.61 425.6 L308.61 423.7" fill="none" stroke="#4a4a4a" stroke-width="0.7" stroke-linecap="butt" stroke-linejoin="round"/>
<path d="M308.61 237.5 L308.61 239.4" fill="none" stroke="#4a4a4a" stroke-width="0.7" stroke-linecap="butt" stroke-linejoin="round"/>
<path d="M318.44 425.6 L318.44 423.7" fill="none" stroke="#4a4a4a" stroke-width="0.7" stroke-linecap="butt" stroke-linejoin="round"/>
<path d="M318.44 237.5 L318.44 239.4" fill="none" stroke="#4a4a4a" stroke-width="0.7" stroke-linecap="butt" stroke-linejoin="round"/>
<path d="M328.27 425.6 L328.27 423.7" fill="none" stroke="#4a4a4a" stroke-width="0.7" stroke-linecap="butt" stroke-linejoin="round"/>
<path d="M328.27 237.5 L328.27 239.4" fill="none" stroke="#4a4a4a" stroke-width="0.7" stroke-linecap="butt" stroke-linejoin="round"/>
<path d="M37.6 247.1 L40.9 247.1" fill="none" stroke="#4a4a4a" stroke-width="0.8" stroke-linecap="butt" stroke-linejoin="round"/>
<path d="M342.5 247.1 L339.2 247.1" fill="none" stroke="#4a4a4a" stroke-width="0.8" stroke-linecap="butt" stroke-linejoin="round"/>
<path d="M37.6 301.15 L40.9 301.15" fill="none" stroke="#4a4a4a" stroke-width="0.8" stroke-linecap="butt" stroke-linejoin="round"/>
<path d="M342.5 301.15 L339.2 301.15" fill="none" stroke="#4a4a4a" stroke-width="0.8" stroke-linecap="butt" stroke-linejoin="round"/>
<path d="M37.6 355.2 L40.9 355.2" fill="none" stroke="#4a4a4a" stroke-width="0.8" stroke-linecap="butt" stroke-linejoin="round"/>
<path d="M342.5 355.2 L339.2 355.2" fill="none" stroke="#4a4a4a" stroke-width="0.8" stroke-linecap="butt" stroke-linejoin="round"/>
<path d="M37.6 409.25 L40.9 409.25" fill="none" stroke="#4a4a4a" stroke-width="0.8" stroke-linecap="butt" stroke-linejoin="round"/>
<path d="M342.5 409.25 L339.2 409.25" fill="none" stroke="#4a4a4a" stroke-width="0.8" stroke-linecap="butt" stroke-linejoin="round"/>
<path d="M37.6 257.91 L40.2 257.91" fill="none" stroke="#4a4a4a" stroke-width="0.7" stroke-linecap="butt" stroke-linejoin="round"/>
<path d="M342.5 257.91 L339.9 257.91" fill="none" stroke="#4a4a4a" stroke-width="0.7" stroke-linecap="butt" stroke-linejoin="round"/>
<path d="M37.6 268.72 L40.2 268.72" fill="none" stroke="#4a4a4a" stroke-width="0.7" stroke-linecap="butt" stroke-linejoin="round"/>
<path d="M342.5 268.72 L339.9 268.72" fill="none" stroke="#4a4a4a" stroke-width="0.7" stroke-linecap="butt" stroke-linejoin="round"/>
<path d="M37.6 279.53 L40.2 279.53" fill="none" stroke="#4a4a4a" stroke-width="0.7" stroke-linecap="butt" stroke-linejoin="round"/>
<path d="M342.5 279.53 L339.9 279.53" fill="none" stroke="#4a4a4a" stroke-width="0.7" stroke-linecap="butt" stroke-linejoin="round"/>
<path d="M37.6 290.34 L40.2 290.34" fill="none" stroke="#4a4a4a" stroke-width="0.7" stroke-linecap="butt" stroke-linejoin="round"/>
<path d="M342.5 290.34 L339.9 290.34" fill="none" stroke="#4a4a4a" stroke-width="0.7" stroke-linecap="butt" stroke-linejoin="round"/>
<path d="M37.6 311.96 L40.2 311.96" fill="none" stroke="#4a4a4a" stroke-width="0.7" stroke-linecap="butt" stroke-linejoin="round"/>
<path d="M342.5 311.96 L339.9 311.96" fill="none" stroke="#4a4a4a" stroke-width="0.7" stroke-linecap="butt" stroke-linejoin="round"/>
<path d="M37.6 322.77 L40.2 322.77" fill="none" stroke="#4a4a4a" stroke-width="0.7" stroke-linecap="butt" stroke-linejoin="round"/>
<path d="M342.5 322.77 L339.9 322.77" fill="none" stroke="#4a4a4a" stroke-width="0.7" stroke-linecap="butt" stroke-linejoin="round"/>
<path d="M37.6 333.58 L40.2 333.58" fill="none" stroke="#4a4a4a" stroke-width="0.7" stroke-linecap="butt" stroke-linejoin="round"/>
<path d="M342.5 333.58 L339.9 333.58" fill="none" stroke="#4a4a4a" stroke-width="0.7" stroke-linecap="butt" stroke-linejoin="round"/>
<path d="M37.6 344.39 L40.2 344.39" fill="none" stroke="#4a4a4a" stroke-width="0.7" stroke-linecap="butt" stroke-linejoin="round"/>
<path d="M342.5 344.39 L339.9 344.39" fill="none" stroke="#4a4a4a" stroke-width="0.7" stroke-linecap="butt" stroke-linejoin="round"/>
<path d="M37.6 366.01 L40.2 366.01" fill="none" stroke="#4a4a4a" stroke-width="0.7" stroke-linecap="butt" stroke-linejoin="round"/>
<path d="M342.5 366.01 L339.9 366.01" fill="none" stroke="#4a4a4a" stroke-width="0.7" stroke-linecap="butt" stroke-linejoin="round"/>
<path d="M37.6 376.82 L40.2 376.82" fill="none" stroke="#4a4a4a" stroke-width="0.7" stroke-linecap="butt" stroke-linejoin="round"/>
<path d="M342.5 376.82 L339.9 376.82" fill="none" stroke="#4a4a4a" stroke-width="0.7" stroke-linecap="butt" stroke-linejoin="round"/>
<path d="M37.6 387.63 L40.2 387.63" fill="none" stroke="#4a4a4a" stroke-width="0.7" stroke-linecap="butt" stroke-linejoin="round"/>
<path d="M342.5 387.63 L339.9 387.63" fill="none" stroke="#4a4a4a" stroke-width="0.7" stroke-linecap="butt" stroke-linejoin="round"/>
<path d="M37.6 398.44 L40.2 398.44" fill="none" stroke="#4a4a4a" stroke-width="0.7" stroke-linecap="butt" stroke-linejoin="round"/>
<path d="M342.5 398.44 L339.9 398.44" fill="none" stroke="#4a4a4a" stroke-width="0.7" stroke-linecap="butt" stroke-linejoin="round"/>
<path d="M37.6 420.06 L40.2 420.06" fill="none" stroke="#4a4a4a" stroke-width="0.7" stroke-linecap="butt" stroke-linejoin="round"/>
<path d="M342.5 420.06 L339.9 420.06" fill="none" stroke="#4a4a4a" stroke-width="0.7" stroke-linecap="butt" stroke-linejoin="round"/>
<path d="M43.2 247.1 L189.96 255.52 L336.72 263.95" fill="none" stroke="#0eaa0e" stroke-width="1.6" stroke-linecap="butt" stroke-linejoin="round"/>
<path d="M43.2 247.1 L128.57 310.57 L213.95 374.03" fill="none" stroke="#1515b0" stroke-width="1.6" stroke-dasharray="3 2.9" stroke-linecap="butt" stroke-linejoin="round"/>
<path d="M43.2 247.1 L96.33 325.28 L149.46 403.45" fill="none" stroke="#222222" stroke-width="1.6" stroke-dasharray="1 2.63" stroke-linecap="butt" stroke-linejoin="round"/>
<path d="M43.2 247.1 L81.49 331.35 L119.78 415.6" fill="none" stroke="#b30f0f" stroke-width="1.6" stroke-dasharray="1 2.5 3.4 2.5" stroke-linecap="butt" stroke-linejoin="round"/>
<text transform="translate(43.2 434.9) scale(0.94 1)" font-family="'Liberation Sans', sans-serif" font-size="8.3" text-anchor="middle" fill="#222" stroke="#222" stroke-width="0.15">0.0</text>
<text transform="translate(92.35 434.9) scale(0.94 1)" font-family="'Liberation Sans', sans-serif" font-size="8.3" text-anchor="middle" fill="#222" stroke="#222" stroke-width="0.15">0.5</text>
<text transform="translate(141.5 434.9) scale(0.94 1)" font-family="'Liberation Sans', sans-serif" font-size="8.3" text-anchor="middle" fill="#222" stroke="#222" stroke-width="0.15">1.0</text>
<text transform="translate(190.65 434.9) scale(0.94 1)" font-family="'Liberation Sans', sans-serif" font-size="8.3" text-anchor="middle" fill="#222" stroke="#222" stroke-width="0.15">1.5</text>
<text transform="translate(239.8 434.9) scale(0.94 1)" font-family="'Liberation Sans', sans-serif" font-size="8.3" text-anchor="middle" fill="#222" stroke="#222" stroke-width="0.15">2.0</text>
<text transform="translate(288.95 434.9) scale(0.94 1)" font-family="'Liberation Sans', sans-serif" font-size="8.3" text-anchor="middle" fill="#222" stroke="#222" stroke-width="0.15">2.5</text>
<text transform="translate(338.1 434.9) scale(0.94 1)" font-family="'Liberation Sans', sans-serif" font-size="8.3" text-anchor="middle" fill="#222" stroke="#222" stroke-width="0.15">3.0</text>
<text x="35" y="249.9" font-family="'Liberation Serif', serif" font-size="8" text-anchor="end" fill="#222" stroke="#222" stroke-width="0.12">0</text>
<text x="35" y="303.95" font-family="'Liberation Serif', serif" font-size="8" text-anchor="end" fill="#222" stroke="#222" stroke-width="0.12">−50</text>
<text x="35" y="358" font-family="'Liberation Serif', serif" font-size="8" text-anchor="end" fill="#222" stroke="#222" stroke-width="0.12">−100</text>
<text x="35" y="412.05" font-family="'Liberation Serif', serif" font-size="8" text-anchor="end" fill="#222" stroke="#222" stroke-width="0.12">−150</text>
<text x="190" y="448" font-family="'Liberation Serif', serif" font-size="8" text-anchor="middle" fill="#222" stroke="#222" stroke-width="0.2" font-style="italic">η</text>
<text transform="translate(12.3 331) rotate(-90)" font-family="'Liberation Serif', serif" font-size="7.6" fill="#222" stroke="#222" stroke-width="0.15" text-anchor="middle">10<tspan font-size="5.6" dy="-3">8</tspan><tspan dy="3" font-size="7.2">Ω</tspan><tspan font-size="5.6" dy="1.8">0</tspan></text>
<path d="M250 290.9 L264.7 290.9" fill="none" stroke="#0eaa0e" stroke-width="1.6" stroke-linecap="butt" stroke-linejoin="round"/>
<text x="268" y="293.47" font-family="'Liberation Serif', serif" font-size="7.8" text-anchor="start" fill="#222" stroke="#222" stroke-width="0.12">Ω<tspan font-size="5.62" dy="1.72">0</tspan><tspan dy="-1.72">(0)=1×10</tspan><tspan font-size="6.08" dy="-3.12">−11</tspan></text>
<path d="M237.5 309.7 L264.7 309.7" fill="none" stroke="#1515b0" stroke-width="1.6" stroke-dasharray="3 2.9" stroke-linecap="butt" stroke-linejoin="round"/>
<text x="270" y="312.27" font-family="'Liberation Serif', serif" font-size="7.8" text-anchor="start" fill="#222" stroke="#222" stroke-width="0.12">Ω<tspan font-size="5.62" dy="1.72">0</tspan><tspan dy="-1.72">(0)=2×10</tspan><tspan font-size="6.08" dy="-3.12">−10</tspan></text>
<path d="M237.5 328.4 L264.7 328.4" fill="none" stroke="#222222" stroke-width="1.6" stroke-dasharray="1 2.63" stroke-linecap="butt" stroke-linejoin="round"/>
<text x="270" y="330.97" font-family="'Liberation Serif', serif" font-size="7.8" text-anchor="start" fill="#222" stroke="#222" stroke-width="0.12">Ω<tspan font-size="5.62" dy="1.72">0</tspan><tspan dy="-1.72">(0)=4×10</tspan><tspan font-size="6.08" dy="-3.12">−10</tspan></text>
<path d="M237.5 347.3 L264.7 347.3" fill="none" stroke="#b30f0f" stroke-width="1.6" stroke-dasharray="1 2.5 3.4 2.5" stroke-linecap="butt" stroke-linejoin="round"/>
<text x="270" y="349.87" font-family="'Liberation Serif', serif" font-size="7.8" text-anchor="start" fill="#222" stroke="#222" stroke-width="0.12">Ω<tspan font-size="5.62" dy="1.72">0</tspan><tspan dy="-1.72">(0)=6×10</tspan><tspan font-size="6.08" dy="-3.12">−10</tspan></text>
<path d="M390.6 239.6 L390.6 420.2" fill="none" stroke="#9a9a9a" stroke-width="1.1" stroke-linecap="butt" stroke-linejoin="round"/>
<path d="M390.6 239.6 L683.7 239.6" fill="none" stroke="#4a4a4a" stroke-width="1.0" stroke-linecap="butt" stroke-linejoin="round"/>
<path d="M683.7 239.6 L683.7 420.2" fill="none" stroke="#959595" stroke-width="1.3" stroke-linecap="butt" stroke-linejoin="round"/>
<path d="M390.6 420.2 L683.7 420.2" fill="none" stroke="#4a4a4a" stroke-width="1.1" stroke-linecap="butt" stroke-linejoin="round"/>
<path d="M396.8 420.2 L396.8 417.2" fill="none" stroke="#4a4a4a" stroke-width="0.8" stroke-linecap="butt" stroke-linejoin="round"/>
<path d="M396.8 239.6 L396.8 242.6" fill="none" stroke="#4a4a4a" stroke-width="0.8" stroke-linecap="butt" stroke-linejoin="round"/>
<path d="M443.9 420.2 L443.9 417.2" fill="none" stroke="#4a4a4a" stroke-width="0.8" stroke-linecap="butt" stroke-linejoin="round"/>
<path d="M443.9 239.6 L443.9 242.6" fill="none" stroke="#4a4a4a" stroke-width="0.8" stroke-linecap="butt" stroke-linejoin="round"/>
<path d="M491 420.2 L491 417.2" fill="none" stroke="#4a4a4a" stroke-width="0.8" stroke-linecap="butt" stroke-linejoin="round"/>
<path d="M491 239.6 L491 242.6" fill="none" stroke="#4a4a4a" stroke-width="0.8" stroke-linecap="butt" stroke-linejoin="round"/>
<path d="M538.1 420.2 L538.1 417.2" fill="none" stroke="#4a4a4a" stroke-width="0.8" stroke-linecap="butt" stroke-linejoin="round"/>
<path d="M538.1 239.6 L538.1 242.6" fill="none" stroke="#4a4a4a" stroke-width="0.8" stroke-linecap="butt" stroke-linejoin="round"/>
<path d="M585.2 420.2 L585.2 417.2" fill="none" stroke="#4a4a4a" stroke-width="0.8" stroke-linecap="butt" stroke-linejoin="round"/>
<path d="M585.2 239.6 L585.2 242.6" fill="none" stroke="#4a4a4a" stroke-width="0.8" stroke-linecap="butt" stroke-linejoin="round"/>
<path d="M632.3 420.2 L632.3 417.2" fill="none" stroke="#4a4a4a" stroke-width="0.8" stroke-linecap="butt" stroke-linejoin="round"/>
<path d="M632.3 239.6 L632.3 242.6" fill="none" stroke="#4a4a4a" stroke-width="0.8" stroke-linecap="butt" stroke-linejoin="round"/>
<path d="M679.4 420.2 L679.4 417.2" fill="none" stroke="#4a4a4a" stroke-width="0.8" stroke-linecap="butt" stroke-linejoin="round"/>
<path d="M679.4 239.6 L679.4 242.6" fill="none" stroke="#4a4a4a" stroke-width="0.8" stroke-linecap="butt" stroke-linejoin="round"/>
<path d="M406.22 420.2 L406.22 418" fill="none" stroke="#4a4a4a" stroke-width="0.7" stroke-linecap="butt" stroke-linejoin="round"/>
<path d="M406.22 239.6 L406.22 241.8" fill="none" stroke="#4a4a4a" stroke-width="0.7" stroke-linecap="butt" stroke-linejoin="round"/>
<path d="M415.64 420.2 L415.64 418" fill="none" stroke="#4a4a4a" stroke-width="0.7" stroke-linecap="butt" stroke-linejoin="round"/>
<path d="M415.64 239.6 L415.64 241.8" fill="none" stroke="#4a4a4a" stroke-width="0.7" stroke-linecap="butt" stroke-linejoin="round"/>
<path d="M425.06 420.2 L425.06 418" fill="none" stroke="#4a4a4a" stroke-width="0.7" stroke-linecap="butt" stroke-linejoin="round"/>
<path d="M425.06 239.6 L425.06 241.8" fill="none" stroke="#4a4a4a" stroke-width="0.7" stroke-linecap="butt" stroke-linejoin="round"/>
<path d="M434.48 420.2 L434.48 418" fill="none" stroke="#4a4a4a" stroke-width="0.7" stroke-linecap="butt" stroke-linejoin="round"/>
<path d="M434.48 239.6 L434.48 241.8" fill="none" stroke="#4a4a4a" stroke-width="0.7" stroke-linecap="butt" stroke-linejoin="round"/>
<path d="M453.32 420.2 L453.32 418" fill="none" stroke="#4a4a4a" stroke-width="0.7" stroke-linecap="butt" stroke-linejoin="round"/>
<path d="M453.32 239.6 L453.32 241.8" fill="none" stroke="#4a4a4a" stroke-width="0.7" stroke-linecap="butt" stroke-linejoin="round"/>
<path d="M462.74 420.2 L462.74 418" fill="none" stroke="#4a4a4a" stroke-width="0.7" stroke-linecap="butt" stroke-linejoin="round"/>
<path d="M462.74 239.6 L462.74 241.8" fill="none" stroke="#4a4a4a" stroke-width="0.7" stroke-linecap="butt" stroke-linejoin="round"/>
<path d="M472.16 420.2 L472.16 418" fill="none" stroke="#4a4a4a" stroke-width="0.7" stroke-linecap="butt" stroke-linejoin="round"/>
<path d="M472.16 239.6 L472.16 241.8" fill="none" stroke="#4a4a4a" stroke-width="0.7" stroke-linecap="butt" stroke-linejoin="round"/>
<path d="M481.58 420.2 L481.58 418" fill="none" stroke="#4a4a4a" stroke-width="0.7" stroke-linecap="butt" stroke-linejoin="round"/>
<path d="M481.58 239.6 L481.58 241.8" fill="none" stroke="#4a4a4a" stroke-width="0.7" stroke-linecap="butt" stroke-linejoin="round"/>
<path d="M500.42 420.2 L500.42 418" fill="none" stroke="#4a4a4a" stroke-width="0.7" stroke-linecap="butt" stroke-linejoin="round"/>
<path d="M500.42 239.6 L500.42 241.8" fill="none" stroke="#4a4a4a" stroke-width="0.7" stroke-linecap="butt" stroke-linejoin="round"/>
<path d="M509.84 420.2 L509.84 418" fill="none" stroke="#4a4a4a" stroke-width="0.7" stroke-linecap="butt" stroke-linejoin="round"/>
<path d="M509.84 239.6 L509.84 241.8" fill="none" stroke="#4a4a4a" stroke-width="0.7" stroke-linecap="butt" stroke-linejoin="round"/>
<path d="M519.26 420.2 L519.26 418" fill="none" stroke="#4a4a4a" stroke-width="0.7" stroke-linecap="butt" stroke-linejoin="round"/>
<path d="M519.26 239.6 L519.26 241.8" fill="none" stroke="#4a4a4a" stroke-width="0.7" stroke-linecap="butt" stroke-linejoin="round"/>
<path d="M528.68 420.2 L528.68 418" fill="none" stroke="#4a4a4a" stroke-width="0.7" stroke-linecap="butt" stroke-linejoin="round"/>
<path d="M528.68 239.6 L528.68 241.8" fill="none" stroke="#4a4a4a" stroke-width="0.7" stroke-linecap="butt" stroke-linejoin="round"/>
<path d="M547.52 420.2 L547.52 418" fill="none" stroke="#4a4a4a" stroke-width="0.7" stroke-linecap="butt" stroke-linejoin="round"/>
<path d="M547.52 239.6 L547.52 241.8" fill="none" stroke="#4a4a4a" stroke-width="0.7" stroke-linecap="butt" stroke-linejoin="round"/>
<path d="M556.94 420.2 L556.94 418" fill="none" stroke="#4a4a4a" stroke-width="0.7" stroke-linecap="butt" stroke-linejoin="round"/>
<path d="M556.94 239.6 L556.94 241.8" fill="none" stroke="#4a4a4a" stroke-width="0.7" stroke-linecap="butt" stroke-linejoin="round"/>
<path d="M566.36 420.2 L566.36 418" fill="none" stroke="#4a4a4a" stroke-width="0.7" stroke-linecap="butt" stroke-linejoin="round"/>
<path d="M566.36 239.6 L566.36 241.8" fill="none" stroke="#4a4a4a" stroke-width="0.7" stroke-linecap="butt" stroke-linejoin="round"/>
<path d="M575.78 420.2 L575.78 418" fill="none" stroke="#4a4a4a" stroke-width="0.7" stroke-linecap="butt" stroke-linejoin="round"/>
<path d="M575.78 239.6 L575.78 241.8" fill="none" stroke="#4a4a4a" stroke-width="0.7" stroke-linecap="butt" stroke-linejoin="round"/>
<path d="M594.62 420.2 L594.62 418" fill="none" stroke="#4a4a4a" stroke-width="0.7" stroke-linecap="butt" stroke-linejoin="round"/>
<path d="M594.62 239.6 L594.62 241.8" fill="none" stroke="#4a4a4a" stroke-width="0.7" stroke-linecap="butt" stroke-linejoin="round"/>
<path d="M604.04 420.2 L604.04 418" fill="none" stroke="#4a4a4a" stroke-width="0.7" stroke-linecap="butt" stroke-linejoin="round"/>
<path d="M604.04 239.6 L604.04 241.8" fill="none" stroke="#4a4a4a" stroke-width="0.7" stroke-linecap="butt" stroke-linejoin="round"/>
<path d="M613.46 420.2 L613.46 418" fill="none" stroke="#4a4a4a" stroke-width="0.7" stroke-linecap="butt" stroke-linejoin="round"/>
<path d="M613.46 239.6 L613.46 241.8" fill="none" stroke="#4a4a4a" stroke-width="0.7" stroke-linecap="butt" stroke-linejoin="round"/>
<path d="M622.88 420.2 L622.88 418" fill="none" stroke="#4a4a4a" stroke-width="0.7" stroke-linecap="butt" stroke-linejoin="round"/>
<path d="M622.88 239.6 L622.88 241.8" fill="none" stroke="#4a4a4a" stroke-width="0.7" stroke-linecap="butt" stroke-linejoin="round"/>
<path d="M641.72 420.2 L641.72 418" fill="none" stroke="#4a4a4a" stroke-width="0.7" stroke-linecap="butt" stroke-linejoin="round"/>
<path d="M641.72 239.6 L641.72 241.8" fill="none" stroke="#4a4a4a" stroke-width="0.7" stroke-linecap="butt" stroke-linejoin="round"/>
<path d="M651.14 420.2 L651.14 418" fill="none" stroke="#4a4a4a" stroke-width="0.7" stroke-linecap="butt" stroke-linejoin="round"/>
<path d="M651.14 239.6 L651.14 241.8" fill="none" stroke="#4a4a4a" stroke-width="0.7" stroke-linecap="butt" stroke-linejoin="round"/>
<path d="M660.56 420.2 L660.56 418" fill="none" stroke="#4a4a4a" stroke-width="0.7" stroke-linecap="butt" stroke-linejoin="round"/>
<path d="M660.56 239.6 L660.56 241.8" fill="none" stroke="#4a4a4a" stroke-width="0.7" stroke-linecap="butt" stroke-linejoin="round"/>
<path d="M669.98 420.2 L669.98 418" fill="none" stroke="#4a4a4a" stroke-width="0.7" stroke-linecap="butt" stroke-linejoin="round"/>
<path d="M669.98 239.6 L669.98 241.8" fill="none" stroke="#4a4a4a" stroke-width="0.7" stroke-linecap="butt" stroke-linejoin="round"/>
<path d="M390.6 249.4 L393.8 249.4" fill="none" stroke="#4a4a4a" stroke-width="0.8" stroke-linecap="butt" stroke-linejoin="round"/>
<path d="M683.5 249.4 L680.3 249.4" fill="none" stroke="#4a4a4a" stroke-width="0.8" stroke-linecap="butt" stroke-linejoin="round"/>
<path d="M390.6 289.45 L393.8 289.45" fill="none" stroke="#4a4a4a" stroke-width="0.8" stroke-linecap="butt" stroke-linejoin="round"/>
<path d="M683.5 289.45 L680.3 289.45" fill="none" stroke="#4a4a4a" stroke-width="0.8" stroke-linecap="butt" stroke-linejoin="round"/>
<path d="M390.6 329.5 L393.8 329.5" fill="none" stroke="#4a4a4a" stroke-width="0.8" stroke-linecap="butt" stroke-linejoin="round"/>
<path d="M683.5 329.5 L680.3 329.5" fill="none" stroke="#4a4a4a" stroke-width="0.8" stroke-linecap="butt" stroke-linejoin="round"/>
<path d="M390.6 369.55 L393.8 369.55" fill="none" stroke="#4a4a4a" stroke-width="0.8" stroke-linecap="butt" stroke-linejoin="round"/>
<path d="M683.5 369.55 L680.3 369.55" fill="none" stroke="#4a4a4a" stroke-width="0.8" stroke-linecap="butt" stroke-linejoin="round"/>
<path d="M390.6 409.6 L393.8 409.6" fill="none" stroke="#4a4a4a" stroke-width="0.8" stroke-linecap="butt" stroke-linejoin="round"/>
<path d="M683.5 409.6 L680.3 409.6" fill="none" stroke="#4a4a4a" stroke-width="0.8" stroke-linecap="butt" stroke-linejoin="round"/>
<path d="M390.6 418.49 L392.9 418.49" fill="none" stroke="#4a4a4a" stroke-width="0.7" stroke-linecap="butt" stroke-linejoin="round"/>
<path d="M683.5 418.49 L681.2 418.49" fill="none" stroke="#4a4a4a" stroke-width="0.7" stroke-linecap="butt" stroke-linejoin="round"/>
<path d="M390.6 415.8 L392.9 415.8" fill="none" stroke="#4a4a4a" stroke-width="0.7" stroke-linecap="butt" stroke-linejoin="round"/>
<path d="M683.5 415.8 L681.2 415.8" fill="none" stroke="#4a4a4a" stroke-width="0.7" stroke-linecap="butt" stroke-linejoin="round"/>
<path d="M390.6 413.48 L392.9 413.48" fill="none" stroke="#4a4a4a" stroke-width="0.7" stroke-linecap="butt" stroke-linejoin="round"/>
<path d="M683.5 413.48 L681.2 413.48" fill="none" stroke="#4a4a4a" stroke-width="0.7" stroke-linecap="butt" stroke-linejoin="round"/>
<path d="M390.6 411.43 L392.9 411.43" fill="none" stroke="#4a4a4a" stroke-width="0.7" stroke-linecap="butt" stroke-linejoin="round"/>
<path d="M683.5 411.43 L681.2 411.43" fill="none" stroke="#4a4a4a" stroke-width="0.7" stroke-linecap="butt" stroke-linejoin="round"/>
<path d="M390.6 397.54 L392.9 397.54" fill="none" stroke="#4a4a4a" stroke-width="0.7" stroke-linecap="butt" stroke-linejoin="round"/>
<path d="M683.5 397.54 L681.2 397.54" fill="none" stroke="#4a4a4a" stroke-width="0.7" stroke-linecap="butt" stroke-linejoin="round"/>
<path d="M390.6 390.49 L392.9 390.49" fill="none" stroke="#4a4a4a" stroke-width="0.7" stroke-linecap="butt" stroke-linejoin="round"/>
<path d="M683.5 390.49 L681.2 390.49" fill="none" stroke="#4a4a4a" stroke-width="0.7" stroke-linecap="butt" stroke-linejoin="round"/>
<path d="M390.6 385.49 L392.9 385.49" fill="none" stroke="#4a4a4a" stroke-width="0.7" stroke-linecap="butt" stroke-linejoin="round"/>
<path d="M683.5 385.49 L681.2 385.49" fill="none" stroke="#4a4a4a" stroke-width="0.7" stroke-linecap="butt" stroke-linejoin="round"/>
<path d="M390.6 381.61 L392.9 381.61" fill="none" stroke="#4a4a4a" stroke-width="0.7" stroke-linecap="butt" stroke-linejoin="round"/>
<path d="M683.5 381.61 L681.2 381.61" fill="none" stroke="#4a4a4a" stroke-width="0.7" stroke-linecap="butt" stroke-linejoin="round"/>
<path d="M390.6 378.44 L392.9 378.44" fill="none" stroke="#4a4a4a" stroke-width="0.7" stroke-linecap="butt" stroke-linejoin="round"/>
<path d="M683.5 378.44 L681.2 378.44" fill="none" stroke="#4a4a4a" stroke-width="0.7" stroke-linecap="butt" stroke-linejoin="round"/>
<path d="M390.6 375.75 L392.9 375.75" fill="none" stroke="#4a4a4a" stroke-width="0.7" stroke-linecap="butt" stroke-linejoin="round"/>
<path d="M683.5 375.75 L681.2 375.75" fill="none" stroke="#4a4a4a" stroke-width="0.7" stroke-linecap="butt" stroke-linejoin="round"/>
<path d="M390.6 373.43 L392.9 373.43" fill="none" stroke="#4a4a4a" stroke-width="0.7" stroke-linecap="butt" stroke-linejoin="round"/>
<path d="M683.5 373.43 L681.2 373.43" fill="none" stroke="#4a4a4a" stroke-width="0.7" stroke-linecap="butt" stroke-linejoin="round"/>
<path d="M390.6 371.38 L392.9 371.38" fill="none" stroke="#4a4a4a" stroke-width="0.7" stroke-linecap="butt" stroke-linejoin="round"/>
<path d="M683.5 371.38 L681.2 371.38" fill="none" stroke="#4a4a4a" stroke-width="0.7" stroke-linecap="butt" stroke-linejoin="round"/>
<path d="M390.6 357.49 L392.9 357.49" fill="none" stroke="#4a4a4a" stroke-width="0.7" stroke-linecap="butt" stroke-linejoin="round"/>
<path d="M683.5 357.49 L681.2 357.49" fill="none" stroke="#4a4a4a" stroke-width="0.7" stroke-linecap="butt" stroke-linejoin="round"/>
<path d="M390.6 350.44 L392.9 350.44" fill="none" stroke="#4a4a4a" stroke-width="0.7" stroke-linecap="butt" stroke-linejoin="round"/>
<path d="M683.5 350.44 L681.2 350.44" fill="none" stroke="#4a4a4a" stroke-width="0.7" stroke-linecap="butt" stroke-linejoin="round"/>
<path d="M390.6 345.44 L392.9 345.44" fill="none" stroke="#4a4a4a" stroke-width="0.7" stroke-linecap="butt" stroke-linejoin="round"/>
<path d="M683.5 345.44 L681.2 345.44" fill="none" stroke="#4a4a4a" stroke-width="0.7" stroke-linecap="butt" stroke-linejoin="round"/>
<path d="M390.6 341.56 L392.9 341.56" fill="none" stroke="#4a4a4a" stroke-width="0.7" stroke-linecap="butt" stroke-linejoin="round"/>
<path d="M683.5 341.56 L681.2 341.56" fill="none" stroke="#4a4a4a" stroke-width="0.7" stroke-linecap="butt" stroke-linejoin="round"/>
<path d="M390.6 338.39 L392.9 338.39" fill="none" stroke="#4a4a4a" stroke-width="0.7" stroke-linecap="butt" stroke-linejoin="round"/>
<path d="M683.5 338.39 L681.2 338.39" fill="none" stroke="#4a4a4a" stroke-width="0.7" stroke-linecap="butt" stroke-linejoin="round"/>
<path d="M390.6 335.7 L392.9 335.7" fill="none" stroke="#4a4a4a" stroke-width="0.7" stroke-linecap="butt" stroke-linejoin="round"/>
<path d="M683.5 335.7 L681.2 335.7" fill="none" stroke="#4a4a4a" stroke-width="0.7" stroke-linecap="butt" stroke-linejoin="round"/>
<path d="M390.6 333.38 L392.9 333.38" fill="none" stroke="#4a4a4a" stroke-width="0.7" stroke-linecap="butt" stroke-linejoin="round"/>
<path d="M683.5 333.38 L681.2 333.38" fill="none" stroke="#4a4a4a" stroke-width="0.7" stroke-linecap="butt" stroke-linejoin="round"/>
<path d="M390.6 331.33 L392.9 331.33" fill="none" stroke="#4a4a4a" stroke-width="0.7" stroke-linecap="butt" stroke-linejoin="round"/>
<path d="M683.5 331.33 L681.2 331.33" fill="none" stroke="#4a4a4a" stroke-width="0.7" stroke-linecap="butt" stroke-linejoin="round"/>
<path d="M390.6 317.44 L392.9 317.44" fill="none" stroke="#4a4a4a" stroke-width="0.7" stroke-linecap="butt" stroke-linejoin="round"/>
<path d="M683.5 317.44 L681.2 317.44" fill="none" stroke="#4a4a4a" stroke-width="0.7" stroke-linecap="butt" stroke-linejoin="round"/>
<path d="M390.6 310.39 L392.9 310.39" fill="none" stroke="#4a4a4a" stroke-width="0.7" stroke-linecap="butt" stroke-linejoin="round"/>
<path d="M683.5 310.39 L681.2 310.39" fill="none" stroke="#4a4a4a" stroke-width="0.7" stroke-linecap="butt" stroke-linejoin="round"/>
<path d="M390.6 305.39 L392.9 305.39" fill="none" stroke="#4a4a4a" stroke-width="0.7" stroke-linecap="butt" stroke-linejoin="round"/>
<path d="M683.5 305.39 L681.2 305.39" fill="none" stroke="#4a4a4a" stroke-width="0.7" stroke-linecap="butt" stroke-linejoin="round"/>
<path d="M390.6 301.51 L392.9 301.51" fill="none" stroke="#4a4a4a" stroke-width="0.7" stroke-linecap="butt" stroke-linejoin="round"/>
<path d="M683.5 301.51 L681.2 301.51" fill="none" stroke="#4a4a4a" stroke-width="0.7" stroke-linecap="butt" stroke-linejoin="round"/>
<path d="M390.6 298.34 L392.9 298.34" fill="none" stroke="#4a4a4a" stroke-width="0.7" stroke-linecap="butt" stroke-linejoin="round"/>
<path d="M683.5 298.34 L681.2 298.34" fill="none" stroke="#4a4a4a" stroke-width="0.7" stroke-linecap="butt" stroke-linejoin="round"/>
<path d="M390.6 295.65 L392.9 295.65" fill="none" stroke="#4a4a4a" stroke-width="0.7" stroke-linecap="butt" stroke-linejoin="round"/>
<path d="M683.5 295.65 L681.2 295.65" fill="none" stroke="#4a4a4a" stroke-width="0.7" stroke-linecap="butt" stroke-linejoin="round"/>
<path d="M390.6 293.33 L392.9 293.33" fill="none" stroke="#4a4a4a" stroke-width="0.7" stroke-linecap="butt" stroke-linejoin="round"/>
<path d="M683.5 293.33 L681.2 293.33" fill="none" stroke="#4a4a4a" stroke-width="0.7" stroke-linecap="butt" stroke-linejoin="round"/>
<path d="M390.6 291.28 L392.9 291.28" fill="none" stroke="#4a4a4a" stroke-width="0.7" stroke-linecap="butt" stroke-linejoin="round"/>
<path d="M683.5 291.28 L681.2 291.28" fill="none" stroke="#4a4a4a" stroke-width="0.7" stroke-linecap="butt" stroke-linejoin="round"/>
<path d="M390.6 277.39 L392.9 277.39" fill="none" stroke="#4a4a4a" stroke-width="0.7" stroke-linecap="butt" stroke-linejoin="round"/>
<path d="M683.5 277.39 L681.2 277.39" fill="none" stroke="#4a4a4a" stroke-width="0.7" stroke-linecap="butt" stroke-linejoin="round"/>
<path d="M390.6 270.34 L392.9 270.34" fill="none" stroke="#4a4a4a" stroke-width="0.7" stroke-linecap="butt" stroke-linejoin="round"/>
<path d="M683.5 270.34 L681.2 270.34" fill="none" stroke="#4a4a4a" stroke-width="0.7" stroke-linecap="butt" stroke-linejoin="round"/>
<path d="M390.6 265.34 L392.9 265.34" fill="none" stroke="#4a4a4a" stroke-width="0.7" stroke-linecap="butt" stroke-linejoin="round"/>
<path d="M683.5 265.34 L681.2 265.34" fill="none" stroke="#4a4a4a" stroke-width="0.7" stroke-linecap="butt" stroke-linejoin="round"/>
<path d="M390.6 261.46 L392.9 261.46" fill="none" stroke="#4a4a4a" stroke-width="0.7" stroke-linecap="butt" stroke-linejoin="round"/>
<path d="M683.5 261.46 L681.2 261.46" fill="none" stroke="#4a4a4a" stroke-width="0.7" stroke-linecap="butt" stroke-linejoin="round"/>
<path d="M390.6 258.29 L392.9 258.29" fill="none" stroke="#4a4a4a" stroke-width="0.7" stroke-linecap="butt" stroke-linejoin="round"/>
<path d="M683.5 258.29 L681.2 258.29" fill="none" stroke="#4a4a4a" stroke-width="0.7" stroke-linecap="butt" stroke-linejoin="round"/>
<path d="M390.6 255.6 L392.9 255.6" fill="none" stroke="#4a4a4a" stroke-width="0.7" stroke-linecap="butt" stroke-linejoin="round"/>
<path d="M683.5 255.6 L681.2 255.6" fill="none" stroke="#4a4a4a" stroke-width="0.7" stroke-linecap="butt" stroke-linejoin="round"/>
<path d="M390.6 253.28 L392.9 253.28" fill="none" stroke="#4a4a4a" stroke-width="0.7" stroke-linecap="butt" stroke-linejoin="round"/>
<path d="M683.5 253.28 L681.2 253.28" fill="none" stroke="#4a4a4a" stroke-width="0.7" stroke-linecap="butt" stroke-linejoin="round"/>
<path d="M390.6 251.23 L392.9 251.23" fill="none" stroke="#4a4a4a" stroke-width="0.7" stroke-linecap="butt" stroke-linejoin="round"/>
<path d="M683.5 251.23 L681.2 251.23" fill="none" stroke="#4a4a4a" stroke-width="0.7" stroke-linecap="butt" stroke-linejoin="round"/>
<path d="M402.08 412.69 L403 407.09 L403.92 402.27 L404.84 398.03 L405.76 394.26 L406.68 390.85 L407.6 387.75 L408.52 384.91 L409.45 382.27 L410.37 379.83 L411.29 377.54 L412.21 375.4 L413.13 373.38 L414.05 371.47 L414.97 369.66 L415.89 367.94 L416.82 366.3 L417.74 364.73 L418.66 363.24 L419.58 361.8 L420.5 360.42 L421.42 359.09 L422.34 357.82 L423.26 356.58 L424.19 355.39 L425.11 354.24 L426.03 353.13 L426.95 352.05 L427.87 351 L428.79 349.99 L429.71 349 L430.63 348.04 L431.56 347.1 L432.48 346.19 L433.4 345.31 L434.32 344.44 L435.24 343.6 L436.16 342.77 L437.08 341.97 L438 341.18 L438.93 340.41 L439.85 339.66 L440.77 338.92 L441.69 338.2 L442.61 337.5 L443.53 336.8 L444.45 336.12 L445.38 335.46 L446.3 334.8 L447.22 334.16 L448.14 333.53 L449.06 332.91 L449.98 332.31 L450.9 331.71 L451.82 331.12 L452.75 330.54 L453.67 329.98 L454.59 329.42 L455.51 328.87 L456.43 328.32 L457.35 327.79 L458.27 327.27 L459.19 326.75 L460.12 326.24 L461.04 325.74 L461.96 325.24 L462.88 324.75 L463.8 324.27 L464.72 323.8 L465.64 323.33 L466.56 322.86 L467.49 322.41 L468.41 321.96 L469.33 321.51 L470.25 321.07 L471.17 320.64 L472.09 320.21 L473.01 319.79 L473.93 319.37 L474.86 318.96 L475.78 318.55 L476.7 318.15 L477.62 317.75 L478.54 317.35 L479.46 316.96 L480.38 316.58 L481.3 316.2 L482.23 315.82 L483.15 315.45 L484.07 315.08 L484.99 314.71 L485.91 314.35 L486.83 313.99 L487.75 313.64 L488.68 313.29 L489.6 312.94 L490.52 312.6 L491.44 312.26 L492.36 311.92 L493.28 311.59 L494.2 311.26 L495.12 310.93 L496.05 310.6 L496.97 310.28 L497.89 309.96 L498.81 309.65 L499.73 309.33 L500.65 309.02 L501.57 308.72 L502.49 308.41 L503.42 308.11 L504.34 307.81 L505.26 307.52 L506.18 307.22 L507.1 306.93 L508.02 306.64 L508.94 306.35 L509.86 306.07 L510.79 305.79 L511.71 305.51 L512.63 305.23 L513.55 304.95 L514.47 304.68 L515.39 304.41 L516.31 304.14 L517.23 303.87 L518.16 303.61 L519.08 303.34 L520 303.08 L520.92 302.82 L521.84 302.57 L522.76 302.31 L523.68 302.06 L524.6 301.81 L525.53 301.56 L526.45 301.31 L527.37 301.06 L528.29 300.82 L529.21 300.57 L530.13 300.33 L531.05 300.09 L531.98 299.85 L532.9 299.62 L533.82 299.38 L534.74 299.15 L535.66 298.92 L536.58 298.69 L537.5 298.46 L538.42 298.23 L539.35 298.01 L540.27 297.78 L541.19 297.56 L542.11 297.34 L543.03 297.12 L543.95 296.9 L544.87 296.68 L545.79 296.47 L546.72 296.25 L547.64 296.04 L548.56 295.83 L549.48 295.62 L550.4 295.41 L551.32 295.2 L552.24 294.99 L553.16 294.79 L554.09 294.58 L555.01 294.38 L555.93 294.18 L556.85 293.98 L557.77 293.78 L558.69 293.58 L559.61 293.38 L560.53 293.19 L561.46 292.99 L562.38 292.8 L563.3 292.6 L564.22 292.41 L565.14 292.22 L566.06 292.03 L566.98 291.84 L567.9 291.66 L568.83 291.47 L569.75 291.28 L570.67 291.1 L571.59 290.91 L572.51 290.73 L573.43 290.55 L574.35 290.37 L575.28 290.19 L576.2 290.01 L577.12 289.83 L578.04 289.65 L578.96 289.48 L579.88 289.3 L580.8 289.13 L581.72 288.95 L582.65 288.78 L583.57 288.61 L584.49 288.44 L585.41 288.27 L586.33 288.1 L587.25 287.93 L588.17 287.76 L589.09 287.59 L590.02 287.43 L590.94 287.26 L591.86 287.1 L592.78 286.93 L593.7 286.77 L594.62 286.61 L595.54 286.45 L596.46 286.29 L597.39 286.13 L598.31 285.97 L599.23 285.81 L600.15 285.65 L601.07 285.49 L601.99 285.34 L602.91 285.18 L603.83 285.02 L604.76 284.87 L605.68 284.72 L606.6 284.56 L607.52 284.41 L608.44 284.26 L609.36 284.11 L610.28 283.96 L611.2 283.81 L612.13 283.66 L613.05 283.51 L613.97 283.36 L614.89 283.21 L615.81 283.07 L616.73 282.92 L617.65 282.78 L618.58 282.63 L619.5 282.49 L620.42 282.34 L621.34 282.2 L622.26 282.06 L623.18 281.92 L624.1 281.78 L625.02 281.63 L625.95 281.49 L626.87 281.36 L627.79 281.22 L628.71 281.08 L629.63 280.94 L630.55 280.8 L631.47 280.67 L632.39 280.53 L633.32 280.39 L634.24 280.26 L635.16 280.12 L636.08 279.99 L637 279.86 L637.92 279.72 L638.84 279.59 L639.76 279.46 L640.69 279.33 L641.61 279.19 L642.53 279.06 L643.45 278.93 L644.37 278.8 L645.29 278.68 L646.21 278.55 L647.13 278.42 L648.06 278.29 L648.98 278.16 L649.9 278.04 L650.82 277.91 L651.74 277.78 L652.66 277.66 L653.58 277.53 L654.5 277.41 L655.43 277.28 L656.35 277.16 L657.27 277.04 L658.19 276.91 L659.11 276.79 L660.03 276.67 L660.95 276.55 L661.88 276.43 L662.8 276.31 L663.72 276.19 L664.64 276.07 L665.56 275.95 L666.48 275.83 L667.4 275.71 L668.32 275.59 L669.25 275.47 L670.17 275.36 L671.09 275.24 L672.01 275.12 L672.93 275.01 L673.85 274.89 L674.77 274.78 L675.69 274.66 L676.62 274.55 L677.54 274.43 L678.46 274.32" fill="none" stroke="#0eaa0e" stroke-width="1.8" stroke-linecap="butt" stroke-linejoin="round"/>
<path d="M400.1 384.38 L400.63 379.14 L401.17 374.59 L401.7 370.57 L402.24 366.96 L402.78 363.69 L403.31 360.71 L403.85 357.96 L404.38 355.41 L404.92 353.03 L405.45 350.81 L405.99 348.72 L406.53 346.75 L407.06 344.89 L407.6 343.12 L408.13 341.43 L408.67 339.82 L409.2 338.29 L409.74 336.82 L410.27 335.41 L410.81 334.05 L411.35 332.74 L411.88 331.49 L412.42 330.27 L412.95 329.1 L413.49 327.96 L414.02 326.87 L414.56 325.8 L415.1 324.77 L415.63 323.76 L416.17 322.79 L416.7 321.84 L417.24 320.91 L417.77 320.01 L418.31 319.14 L418.85 318.28 L419.38 317.45 L419.92 316.63 L420.45 315.83 L420.99 315.05 L421.52 314.29 L422.06 313.55 L422.6 312.82 L423.13 312.1 L423.67 311.4 L424.2 310.71 L424.74 310.04 L425.27 309.38 L425.81 308.73 L426.35 308.09 L426.88 307.47 L427.42 306.86 L427.95 306.25 L428.49 305.66 L429.02 305.08 L429.56 304.5 L430.1 303.94 L430.63 303.38 L431.17 302.84 L431.7 302.3 L432.24 301.77 L432.77 301.25 L433.31 300.73 L433.85 300.23 L434.38 299.73 L434.92 299.23 L435.45 298.75 L435.99 298.27 L436.52 297.8 L437.06 297.33 L437.59 296.87 L438.13 296.42 L438.67 295.97 L439.2 295.53 L439.74 295.09 L440.27 294.66 L440.81 294.23 L441.34 293.81 L441.88 293.4 L442.42 292.99 L442.95 292.58 L443.49 292.18 L444.02 291.78 L444.56 291.39 L445.09 291 L445.63 290.62 L446.17 290.24 L446.7 289.86 L447.24 289.49 L447.77 289.12 L448.31 288.76 L448.84 288.4 L449.38 288.04 L449.92 287.69 L450.45 287.34 L450.99 287 L451.52 286.65 L452.06 286.32 L452.59 285.98 L453.13 285.65 L453.67 285.32 L454.2 284.99 L454.74 284.67 L455.27 284.35 L455.81 284.03 L456.34 283.72 L456.88 283.41 L457.42 283.1 L457.95 282.79 L458.49 282.49 L459.02 282.19 L459.56 281.89 L460.09 281.59 L460.63 281.3 L461.16 281.01 L461.7 280.72 L462.24 280.43 L462.77 280.15 L463.31 279.87 L463.84 279.59 L464.38 279.31 L464.91 279.04 L465.45 278.77 L465.99 278.5 L466.52 278.23 L467.06 277.96 L467.59 277.7 L468.13 277.43 L468.66 277.17 L469.2 276.92 L469.74 276.66 L470.27 276.41 L470.81 276.15 L471.34 275.9 L471.88 275.65 L472.41 275.41 L472.95 275.16 L473.49 274.92 L474.02 274.67 L474.56 274.43 L475.09 274.19 L475.63 273.96 L476.16 273.72 L476.7 273.49 L477.24 273.25 L477.77 273.02 L478.31 272.79 L478.84 272.57 L479.38 272.34 L479.91 272.12 L480.45 271.89 L480.99 271.67 L481.52 271.45 L482.06 271.23 L482.59 271.01 L483.13 270.8 L483.66 270.58 L484.2 270.37 L484.74 270.15 L485.27 269.94 L485.81 269.73 L486.34 269.52 L486.88 269.32 L487.41 269.11 L487.95 268.91 L488.48 268.7 L489.02 268.5 L489.56 268.3 L490.09 268.1 L490.63 267.9 L491.16 267.7 L491.7 267.5 L492.23 267.31 L492.77 267.11 L493.31 266.92 L493.84 266.73 L494.38 266.53 L494.91 266.34 L495.45 266.15 L495.98 265.97 L496.52 265.78 L497.06 265.59 L497.59 265.41 L498.13 265.22 L498.66 265.04 L499.2 264.86 L499.73 264.68 L500.27 264.49 L500.81 264.31 L501.34 264.14 L501.88 263.96 L502.41 263.78 L502.95 263.61 L503.48 263.43 L504.02 263.26 L504.56 263.08 L505.09 262.91 L505.63 262.74 L506.16 262.57 L506.7 262.4 L507.23 262.23 L507.77 262.06 L508.31 261.89 L508.84 261.73 L509.38 261.56 L509.91 261.4 L510.45 261.23 L510.98 261.07 L511.52 260.9 L512.05 260.74 L512.59 260.58 L513.13 260.42 L513.66 260.26 L514.2 260.1 L514.73 259.94 L515.27 259.79 L515.8 259.63 L516.34 259.47 L516.88 259.32 L517.41 259.16 L517.95 259.01 L518.48 258.85 L519.02 258.7 L519.55 258.55 L520.09 258.4 L520.63 258.25 L521.16 258.1 L521.7 257.95 L522.23 257.8 L522.77 257.65 L523.3 257.5 L523.84 257.36 L524.38 257.21 L524.91 257.06 L525.45 256.92 L525.98 256.77 L526.52 256.63 L527.05 256.49 L527.59 256.34 L528.13 256.2 L528.66 256.06 L529.2 255.92 L529.73 255.78 L530.27 255.64 L530.8 255.5 L531.34 255.36 L531.88 255.22 L532.41 255.08 L532.95 254.95 L533.48 254.81 L534.02 254.67 L534.55 254.54 L535.09 254.4 L535.63 254.27 L536.16 254.14 L536.7 254 L537.23 253.87 L537.77 253.74 L538.3 253.6 L538.84 253.47 L539.37 253.34 L539.91 253.21 L540.45 253.08 L540.98 252.95 L541.52 252.82 L542.05 252.69 L542.59 252.57 L543.12 252.44 L543.66 252.31 L544.2 252.19 L544.73 252.06 L545.27 251.93 L545.8 251.81 L546.34 251.68 L546.87 251.56 L547.41 251.44 L547.95 251.31 L548.48 251.19 L549.02 251.07 L549.55 250.94 L550.09 250.82 L550.62 250.7 L551.16 250.58 L551.7 250.46 L552.23 250.34 L552.77 250.22 L553.3 250.1 L553.84 249.98 L554.37 249.86 L554.91 249.74 L555.45 249.63 L555.98 249.51 L556.52 249.39 L557.05 249.28 L557.59 249.16 L558.12 249.04 L558.66 248.93 L559.2 248.81 L559.73 248.7 L560.27 248.59 L560.8 248.47" fill="none" stroke="#1515b0" stroke-width="1.8" stroke-dasharray="4 3.1" stroke-linecap="butt" stroke-linejoin="round"/>
<path d="M398.68 392.07 L399.02 386.38 L399.35 381.5 L399.69 377.22 L400.02 373.41 L400.36 369.97 L400.69 366.84 L401.02 363.97 L401.36 361.32 L401.69 358.86 L402.03 356.56 L402.36 354.41 L402.7 352.37 L403.03 350.46 L403.37 348.64 L403.7 346.91 L404.03 345.26 L404.37 343.69 L404.7 342.19 L405.04 340.75 L405.37 339.36 L405.71 338.03 L406.04 336.75 L406.38 335.51 L406.71 334.32 L407.04 333.16 L407.38 332.05 L407.71 330.96 L408.05 329.91 L408.38 328.89 L408.72 327.9 L409.05 326.94 L409.39 326 L409.72 325.09 L410.05 324.2 L410.39 323.34 L410.72 322.49 L411.06 321.66 L411.39 320.86 L411.73 320.07 L412.06 319.3 L412.39 318.54 L412.73 317.81 L413.06 317.08 L413.4 316.38 L413.73 315.68 L414.07 315 L414.4 314.33 L414.74 313.68 L415.07 313.04 L415.4 312.41 L415.74 311.79 L416.07 311.18 L416.41 310.58 L416.74 309.99 L417.08 309.41 L417.41 308.84 L417.75 308.28 L418.08 307.73 L418.41 307.19 L418.75 306.66 L419.08 306.13 L419.42 305.61 L419.75 305.1 L420.09 304.6 L420.42 304.1 L420.76 303.61 L421.09 303.13 L421.42 302.65 L421.76 302.19 L422.09 301.72 L422.43 301.27 L422.76 300.81 L423.1 300.37 L423.43 299.93 L423.76 299.5 L424.1 299.07 L424.43 298.64 L424.77 298.22 L425.1 297.81 L425.44 297.4 L425.77 297 L426.11 296.6 L426.44 296.2 L426.77 295.81 L427.11 295.43 L427.44 295.05 L427.78 294.67 L428.11 294.3 L428.45 293.93 L428.78 293.56 L429.12 293.2 L429.45 292.84 L429.78 292.49 L430.12 292.13 L430.45 291.79 L430.79 291.44 L431.12 291.1 L431.46 290.77 L431.79 290.43 L432.12 290.1 L432.46 289.77 L432.79 289.45 L433.13 289.13 L433.46 288.81 L433.8 288.49 L434.13 288.18 L434.47 287.87 L434.8 287.56 L435.13 287.26 L435.47 286.95 L435.8 286.65 L436.14 286.36 L436.47 286.06 L436.81 285.77 L437.14 285.48 L437.48 285.19 L437.81 284.91 L438.14 284.63 L438.48 284.35 L438.81 284.07 L439.15 283.79 L439.48 283.52 L439.82 283.25 L440.15 282.98 L440.49 282.71 L440.82 282.45 L441.15 282.18 L441.49 281.92 L441.82 281.66 L442.16 281.4 L442.49 281.15 L442.83 280.9 L443.16 280.64 L443.49 280.39 L443.83 280.15 L444.16 279.9 L444.5 279.65 L444.83 279.41 L445.17 279.17 L445.5 278.93 L445.84 278.69 L446.17 278.46 L446.5 278.22 L446.84 277.99 L447.17 277.76 L447.51 277.53 L447.84 277.3 L448.18 277.07 L448.51 276.84 L448.85 276.62 L449.18 276.4 L449.51 276.18 L449.85 275.96 L450.18 275.74 L450.52 275.52 L450.85 275.3 L451.19 275.09 L451.52 274.88 L451.86 274.66 L452.19 274.45 L452.52 274.24 L452.86 274.04 L453.19 273.83 L453.53 273.62 L453.86 273.42 L454.2 273.22 L454.53 273.01 L454.86 272.81 L455.2 272.61 L455.53 272.41 L455.87 272.22 L456.2 272.02 L456.54 271.83 L456.87 271.63 L457.21 271.44 L457.54 271.25 L457.87 271.05 L458.21 270.86 L458.54 270.68 L458.88 270.49 L459.21 270.3 L459.55 270.12 L459.88 269.93 L460.22 269.75 L460.55 269.56 L460.88 269.38 L461.22 269.2 L461.55 269.02 L461.89 268.84 L462.22 268.66 L462.56 268.49 L462.89 268.31 L463.23 268.13 L463.56 267.96 L463.89 267.78 L464.23 267.61 L464.56 267.44 L464.9 267.27 L465.23 267.1 L465.57 266.93 L465.9 266.76 L466.23 266.59 L466.57 266.42 L466.9 266.26 L467.24 266.09 L467.57 265.93 L467.91 265.76 L468.24 265.6 L468.58 265.44 L468.91 265.28 L469.24 265.12 L469.58 264.96 L469.91 264.8 L470.25 264.64 L470.58 264.48 L470.92 264.32 L471.25 264.17 L471.59 264.01 L471.92 263.85 L472.25 263.7 L472.59 263.55 L472.92 263.39 L473.26 263.24 L473.59 263.09 L473.93 262.94 L474.26 262.79 L474.6 262.64 L474.93 262.49 L475.26 262.34 L475.6 262.19 L475.93 262.04 L476.27 261.9 L476.6 261.75 L476.94 261.61 L477.27 261.46 L477.6 261.32 L477.94 261.17 L478.27 261.03 L478.61 260.89 L478.94 260.75 L479.28 260.6 L479.61 260.46 L479.95 260.32 L480.28 260.18 L480.61 260.04 L480.95 259.91 L481.28 259.77 L481.62 259.63 L481.95 259.49 L482.29 259.36 L482.62 259.22 L482.96 259.09 L483.29 258.95 L483.62 258.82 L483.96 258.68 L484.29 258.55 L484.63 258.42 L484.96 258.29 L485.3 258.15 L485.63 258.02 L485.97 257.89 L486.3 257.76 L486.63 257.63 L486.97 257.5 L487.3 257.37 L487.64 257.25 L487.97 257.12 L488.31 256.99 L488.64 256.86 L488.97 256.74 L489.31 256.61 L489.64 256.49 L489.98 256.36 L490.31 256.24 L490.65 256.11 L490.98 255.99 L491.32 255.86 L491.65 255.74 L491.98 255.62 L492.32 255.5 L492.65 255.38 L492.99 255.25 L493.32 255.13 L493.66 255.01 L493.99 254.89 L494.33 254.77 L494.66 254.65 L494.99 254.54 L495.33 254.42 L495.66 254.3 L496 254.18 L496.33 254.07 L496.67 253.95 L497 253.83 L497.33 253.72 L497.67 253.6 L498 253.49 L498.34 253.37 L498.67 253.26 L499.01 253.14" fill="none" stroke="#222222" stroke-width="1.8" stroke-dasharray="1.1 3.38" stroke-linecap="butt" stroke-linejoin="round"/>
<path d="M398.24 394.29 L398.48 388.96 L398.72 384.34 L398.96 380.27 L399.2 376.62 L399.43 373.32 L399.67 370.3 L399.91 367.53 L400.15 364.96 L400.39 362.56 L400.63 360.32 L400.87 358.22 L401.1 356.24 L401.34 354.36 L401.58 352.58 L401.82 350.88 L402.06 349.27 L402.3 347.73 L402.54 346.25 L402.77 344.83 L403.01 343.47 L403.25 342.16 L403.49 340.89 L403.73 339.68 L403.97 338.5 L404.2 337.36 L404.44 336.26 L404.68 335.19 L404.92 334.15 L405.16 333.14 L405.4 332.16 L405.64 331.21 L405.87 330.28 L406.11 329.38 L406.35 328.5 L406.59 327.64 L406.83 326.81 L407.07 325.99 L407.31 325.19 L407.54 324.41 L407.78 323.65 L408.02 322.9 L408.26 322.17 L408.5 321.45 L408.74 320.75 L408.98 320.06 L409.21 319.38 L409.45 318.72 L409.69 318.07 L409.93 317.43 L410.17 316.81 L410.41 316.19 L410.65 315.59 L410.88 314.99 L411.12 314.41 L411.36 313.84 L411.6 313.27 L411.84 312.71 L412.08 312.17 L412.32 311.63 L412.55 311.1 L412.79 310.57 L413.03 310.06 L413.27 309.55 L413.51 309.05 L413.75 308.56 L413.99 308.07 L414.22 307.59 L414.46 307.12 L414.7 306.65 L414.94 306.19 L415.18 305.74 L415.42 305.29 L415.66 304.85 L415.89 304.41 L416.13 303.98 L416.37 303.55 L416.61 303.13 L416.85 302.71 L417.09 302.3 L417.32 301.89 L417.56 301.49 L417.8 301.09 L418.04 300.7 L418.28 300.31 L418.52 299.93 L418.76 299.55 L418.99 299.17 L419.23 298.8 L419.47 298.43 L419.71 298.07 L419.95 297.71 L420.19 297.35 L420.43 297 L420.66 296.65 L420.9 296.3 L421.14 295.96 L421.38 295.62 L421.62 295.29 L421.86 294.95 L422.1 294.62 L422.33 294.3 L422.57 293.97 L422.81 293.65 L423.05 293.34 L423.29 293.02 L423.53 292.71 L423.77 292.4 L424 292.09 L424.24 291.79 L424.48 291.49 L424.72 291.19 L424.96 290.89 L425.2 290.6 L425.44 290.31 L425.67 290.02 L425.91 289.73 L426.15 289.45 L426.39 289.17 L426.63 288.89 L426.87 288.61 L427.11 288.34 L427.34 288.06 L427.58 287.79 L427.82 287.53 L428.06 287.26 L428.3 286.99 L428.54 286.73 L428.78 286.47 L429.01 286.21 L429.25 285.96 L429.49 285.7 L429.73 285.45 L429.97 285.2 L430.21 284.95 L430.44 284.7 L430.68 284.46 L430.92 284.21 L431.16 283.97 L431.4 283.73 L431.64 283.49 L431.88 283.25 L432.11 283.02 L432.35 282.78 L432.59 282.55 L432.83 282.32 L433.07 282.09 L433.31 281.86 L433.55 281.63 L433.78 281.41 L434.02 281.19 L434.26 280.96 L434.5 280.74 L434.74 280.52 L434.98 280.3 L435.22 280.09 L435.45 279.87 L435.69 279.66 L435.93 279.45 L436.17 279.23 L436.41 279.02 L436.65 278.82 L436.89 278.61 L437.12 278.4 L437.36 278.2 L437.6 277.99 L437.84 277.79 L438.08 277.59 L438.32 277.39 L438.56 277.19 L438.79 276.99 L439.03 276.79 L439.27 276.6 L439.51 276.4 L439.75 276.21 L439.99 276.02 L440.23 275.82 L440.46 275.63 L440.7 275.44 L440.94 275.26 L441.18 275.07 L441.42 274.88 L441.66 274.7 L441.9 274.51 L442.13 274.33 L442.37 274.15 L442.61 273.96 L442.85 273.78 L443.09 273.6 L443.33 273.42 L443.56 273.25 L443.8 273.07 L444.04 272.89 L444.28 272.72 L444.52 272.54 L444.76 272.37 L445 272.2 L445.23 272.03 L445.47 271.86 L445.71 271.69 L445.95 271.52 L446.19 271.35 L446.43 271.18 L446.67 271.01 L446.9 270.85 L447.14 270.68 L447.38 270.52 L447.62 270.35 L447.86 270.19 L448.1 270.03 L448.34 269.87 L448.57 269.71 L448.81 269.55 L449.05 269.39 L449.29 269.23 L449.53 269.07 L449.77 268.91 L450.01 268.76 L450.24 268.6 L450.48 268.45 L450.72 268.29 L450.96 268.14 L451.2 267.99 L451.44 267.83 L451.68 267.68 L451.91 267.53 L452.15 267.38 L452.39 267.23 L452.63 267.08 L452.87 266.94 L453.11 266.79 L453.35 266.64 L453.58 266.49 L453.82 266.35 L454.06 266.2 L454.3 266.06 L454.54 265.91 L454.78 265.77 L455.02 265.63 L455.25 265.49 L455.49 265.34 L455.73 265.2 L455.97 265.06 L456.21 264.92 L456.45 264.78 L456.68 264.64 L456.92 264.51 L457.16 264.37 L457.4 264.23 L457.64 264.09 L457.88 263.96 L458.12 263.82 L458.35 263.69 L458.59 263.55 L458.83 263.42 L459.07 263.29 L459.31 263.15 L459.55 263.02 L459.79 262.89 L460.02 262.76 L460.26 262.63 L460.5 262.49 L460.74 262.36 L460.98 262.24 L461.22 262.11 L461.46 261.98 L461.69 261.85 L461.93 261.72 L462.17 261.59 L462.41 261.47 L462.65 261.34 L462.89 261.22 L463.13 261.09 L463.36 260.97 L463.6 260.84 L463.84 260.72 L464.08 260.59 L464.32 260.47 L464.56 260.35 L464.8 260.23 L465.03 260.1 L465.27 259.98 L465.51 259.86 L465.75 259.74 L465.99 259.62 L466.23 259.5 L466.47 259.38 L466.7 259.26 L466.94 259.14 L467.18 259.03 L467.42 258.91 L467.66 258.79 L467.9 258.67 L468.14 258.56 L468.37 258.44 L468.61 258.33 L468.85 258.21 L469.09 258.1 L469.33 257.98 L469.57 257.87 L469.81 257.75" fill="none" stroke="#b30f0f" stroke-width="1.8" stroke-dasharray="1 3.4 3.9 3.4" stroke-linecap="butt" stroke-linejoin="round"/>
<text x="396.8" y="430.7" font-family="'Liberation Sans', sans-serif" font-size="8.7" text-anchor="middle" fill="#222" stroke="#222" stroke-width="0.15">0.0</text>
<text x="443.9" y="430.7" font-family="'Liberation Sans', sans-serif" font-size="8.7" text-anchor="middle" fill="#222" stroke="#222" stroke-width="0.15">0.5</text>
<text x="491" y="430.7" font-family="'Liberation Sans', sans-serif" font-size="8.7" text-anchor="middle" fill="#222" stroke="#222" stroke-width="0.15">1.0</text>
<text x="538.1" y="430.7" font-family="'Liberation Sans', sans-serif" font-size="8.7" text-anchor="middle" fill="#222" stroke="#222" stroke-width="0.15">1.5</text>
<text x="585.2" y="430.7" font-family="'Liberation Sans', sans-serif" font-size="8.7" text-anchor="middle" fill="#222" stroke="#222" stroke-width="0.15">2.0</text>
<text x="632.3" y="430.7" font-family="'Liberation Sans', sans-serif" font-size="8.7" text-anchor="middle" fill="#222" stroke="#222" stroke-width="0.15">2.5</text>
<text x="679.4" y="430.7" font-family="'Liberation Sans', sans-serif" font-size="8.7" text-anchor="middle" fill="#222" stroke="#222" stroke-width="0.15">3.0</text>
<text x="387.7" y="252.6" font-family="'Liberation Sans', sans-serif" font-size="9.0" text-anchor="end" fill="#222" stroke="#222" stroke-width="0.15">10</text>
<text x="387.7" y="292.65" font-family="'Liberation Sans', sans-serif" font-size="9.0" text-anchor="end" fill="#222" stroke="#222" stroke-width="0.15">1</text>
<text x="387.7" y="332.7" font-family="'Liberation Sans', sans-serif" font-size="9.0" text-anchor="end" fill="#222" stroke="#222" stroke-width="0.15">0.100</text>
<text x="387.7" y="372.75" font-family="'Liberation Sans', sans-serif" font-size="9.0" text-anchor="end" fill="#222" stroke="#222" stroke-width="0.15">0.010</text>
<text x="387.7" y="412.8" font-family="'Liberation Sans', sans-serif" font-size="9.0" text-anchor="end" fill="#222" stroke="#222" stroke-width="0.15">0.001</text>
<text x="538" y="447.2" font-family="'Liberation Serif', serif" font-size="9.6" text-anchor="middle" fill="#222" stroke="#222" stroke-width="0.2" font-style="italic">η</text>
<text transform="translate(357 330) rotate(-90)" font-family="'Liberation Serif', serif" font-size="9" fill="#222" stroke="#222" stroke-width="0.15" text-anchor="middle">10<tspan font-size="6.5" dy="-4.4">9</tspan><tspan dy="4.4">Θ</tspan><tspan font-size="6.5" dy="2">0</tspan></text>
<path d="M578 329.2 L595.9 329.2" fill="none" stroke="#0eaa0e" stroke-width="1.8" stroke-linecap="butt" stroke-linejoin="round"/>
<text x="600.4" y="332.3" font-family="'Liberation Serif', serif" font-size="9.4" text-anchor="start" fill="#222" stroke="#222" stroke-width="0.12">Ω<tspan font-size="6.77" dy="2.07">0</tspan><tspan dy="-2.07">(0)=1×10</tspan><tspan font-size="7.33" dy="-3.76">−11</tspan></text>
<path d="M562.5 346.7 L595.9 346.7" fill="none" stroke="#1515b0" stroke-width="1.8" stroke-dasharray="4 3.1" stroke-linecap="butt" stroke-linejoin="round"/>
<text x="602.6" y="349.8" font-family="'Liberation Serif', serif" font-size="9.4" text-anchor="start" fill="#222" stroke="#222" stroke-width="0.12">Ω<tspan font-size="6.77" dy="2.07">0</tspan><tspan dy="-2.07">(0)=2×10</tspan><tspan font-size="7.33" dy="-3.76">−10</tspan></text>
<path d="M562.5 364.7 L595.9 364.7" fill="none" stroke="#222222" stroke-width="1.8" stroke-dasharray="1.1 3.38" stroke-linecap="butt" stroke-linejoin="round"/>
<text x="602.6" y="367.8" font-family="'Liberation Serif', serif" font-size="9.4" text-anchor="start" fill="#222" stroke="#222" stroke-width="0.12">Ω<tspan font-size="6.77" dy="2.07">0</tspan><tspan dy="-2.07">(0)=4×10</tspan><tspan font-size="7.33" dy="-3.76">−10</tspan></text>
<path d="M562.5 383.1 L595.9 383.1" fill="none" stroke="#b30f0f" stroke-width="1.8" stroke-dasharray="1 3.4 3.9 3.4" stroke-linecap="butt" stroke-linejoin="round"/>
<text x="602.6" y="386.2" font-family="'Liberation Serif', serif" font-size="9.4" text-anchor="start" fill="#222" stroke="#222" stroke-width="0.12">Ω<tspan font-size="6.77" dy="2.07">0</tspan><tspan dy="-2.07">(0)=6×10</tspan><tspan font-size="7.33" dy="-3.76">−10</tspan></text>
</svg>
</body></html>
